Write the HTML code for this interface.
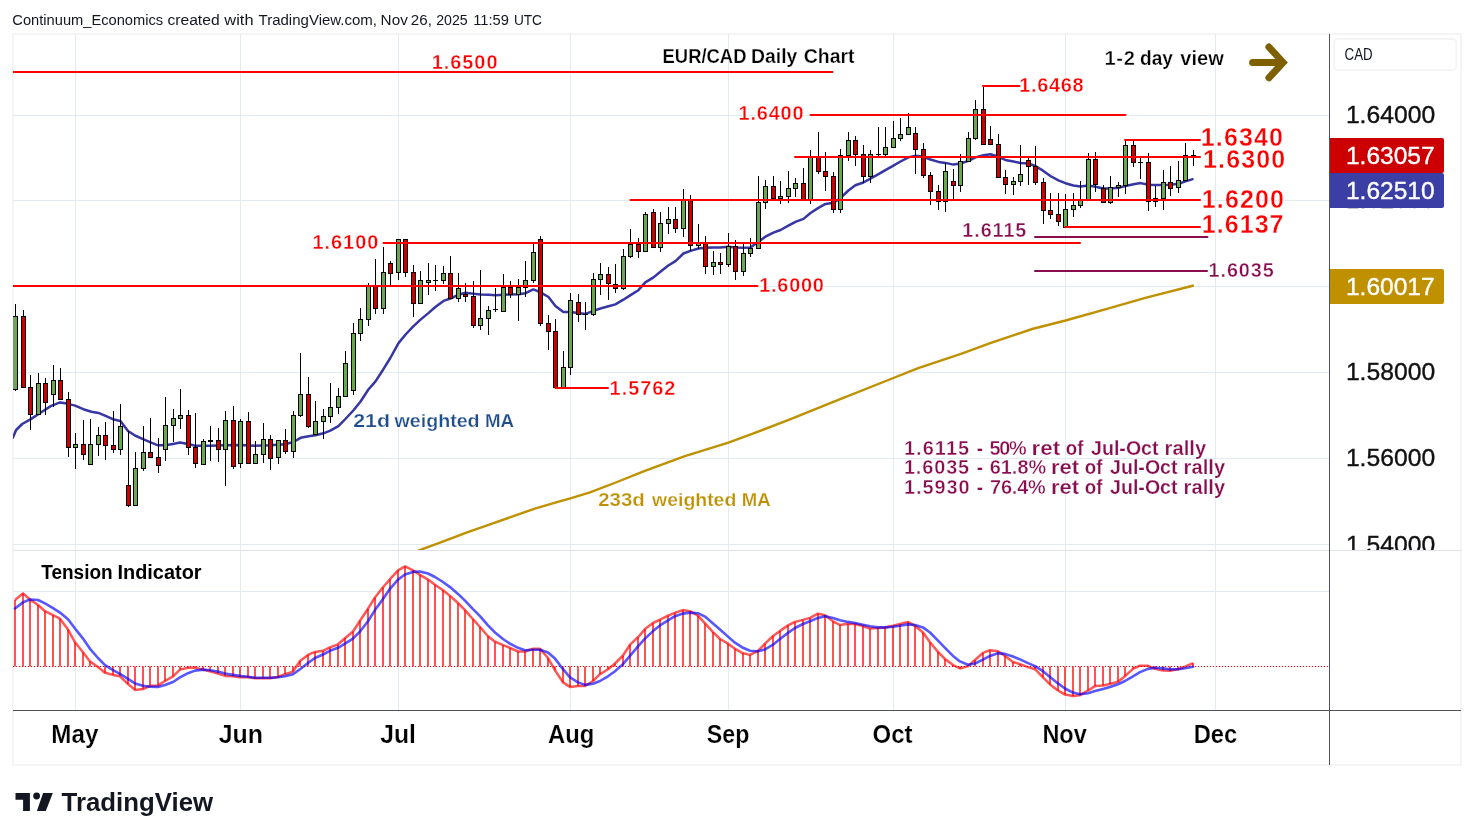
<!DOCTYPE html>
<html><head><meta charset="utf-8"><title>EUR/CAD Daily Chart</title>
<style>html,body{margin:0;padding:0;background:#fff;overflow:hidden;}svg{display:block;will-change:transform;}text{font-family:"Liberation Sans",sans-serif;}</style></head><body>
<svg width="1474" height="840" viewBox="0 0 1474 840">
<rect width="1474" height="840" fill="#ffffff"/>
<defs><clipPath id="main"><rect x="13" y="34" width="1316" height="516"/></clipPath><clipPath id="ind"><rect x="13" y="551" width="1316" height="159"/></clipPath><clipPath id="ax"><rect x="1330" y="34" width="131" height="516"/></clipPath></defs>
<rect x="13" y="34" width="1448" height="731" fill="#ffffff" stroke="#f4f4f4" stroke-width="2"/>
<g shape-rendering="crispEdges"><rect x="75" y="34" width="1" height="676" fill="#e1ecf2"/><rect x="240" y="34" width="1" height="676" fill="#e1ecf2"/><rect x="398" y="34" width="1" height="676" fill="#e1ecf2"/><rect x="570" y="34" width="1" height="676" fill="#e1ecf2"/><rect x="728" y="34" width="1" height="676" fill="#e1ecf2"/><rect x="893" y="34" width="1" height="676" fill="#e1ecf2"/><rect x="1065" y="34" width="1" height="676" fill="#e1ecf2"/><rect x="1215" y="34" width="1" height="676" fill="#e1ecf2"/><rect x="13" y="115" width="1316" height="1" fill="#e1ecf2"/><rect x="13" y="200" width="1316" height="1" fill="#e1ecf2"/><rect x="13" y="286" width="1316" height="1" fill="#e1ecf2"/><rect x="13" y="372" width="1316" height="1" fill="#e1ecf2"/><rect x="13" y="458" width="1316" height="1" fill="#e1ecf2"/><rect x="13" y="544" width="1316" height="1" fill="#e1ecf2"/><rect x="13" y="591" width="1316" height="1" fill="#e1ecf2"/><rect x="13" y="666" width="1316" height="1" fill="#e1ecf2"/></g>
<rect x="13" y="550" width="1448" height="1" fill="#e0e3eb" shape-rendering="crispEdges"/>
<g clip-path="url(#main)">
<path d="M417.5,551.1 L419.0,550.4 L440.7,542.3 L467.8,532.2 L495.0,522.7 L535.7,508.3 L558.7,501.6 L570.4,498.3 L590.0,492.4 L617.1,482.0 L644.2,471.2 L684.9,456.2 L728.4,442.7 L752.8,433.7 L790.0,419.3 L832.7,402.2 L893.4,378.0 L918.2,368.1 L961.0,353.8 L989.5,343.3 L1032.2,329.0 L1065.5,320.5 L1103.4,309.9 L1146.2,297.7 L1193.8,285.5" fill="none" stroke="#bf9000" stroke-width="2.4" stroke-linejoin="round"/>
<path d="M12.5,438.5 L13.6,436.1 L16.1,430.0 L22.2,424.0 L30.4,419.4 L40.5,412.7 L50.7,406.1 L59.9,402.4 L67.0,403.6 L75.1,405.6 L83.3,409.2 L91.4,411.7 L98.5,412.9 L106.7,416.3 L113.8,419.6 L120.4,420.9 L128.0,431.0 L135.0,435.5 L143.0,439.2 L150.0,442.2 L158.0,445.3 L165.0,445.3 L173.0,443.9 L180.0,442.6 L188.0,443.9 L195.0,445.7 L210.0,445.7 L225.0,445.3 L240.0,444.9 L255.0,445.7 L270.0,445.3 L285.0,444.3 L293.5,442.0 L300.6,437.8 L308.5,436.3 L315.4,435.3 L323.4,433.3 L330.3,430.6 L338.4,426.2 L345.4,419.0 L353.3,410.5 L360.4,401.7 L368.4,389.5 L375.5,381.4 L383.4,369.2 L390.3,358.0 L398.5,343.1 L406.0,334.0 L413.3,326.3 L420.5,319.6 L428.4,313.1 L435.3,307.0 L443.5,300.9 L450.4,298.5 L458.3,294.8 L465.5,292.8 L473.4,293.8 L480.5,294.4 L488.5,294.8 L495.6,295.2 L503.5,294.8 L510.4,294.4 L518.6,294.2 L525.5,293.2 L533.4,289.4 L540.6,292.4 L548.5,297.0 L555.4,306.0 L563.4,312.1 L570.5,312.1 L578.4,313.1 L585.5,313.9 L593.4,310.9 L600.4,308.5 L608.5,306.3 L615.4,304.4 L623.4,299.7 L630.5,295.1 L638.4,290.2 L645.3,282.4 L653.5,277.4 L660.4,271.7 L668.3,265.5 L675.5,261.1 L683.4,253.5 L690.5,250.9 L698.5,248.5 L705.4,247.8 L713.5,247.4 L720.4,247.4 L728.4,246.8 L735.5,247.4 L743.4,247.8 L750.4,247.4 L758.5,241.7 L765.4,236.7 L773.4,232.6 L780.5,230.0 L788.4,225.7 L795.4,221.9 L803.5,218.9 L810.5,213.0 L818.4,207.9 L825.5,203.9 L833.4,202.8 L840.4,198.2 L848.4,190.5 L855.4,185.3 L863.4,182.5 L870.4,178.7 L878.5,174.1 L885.4,170.1 L893.4,165.6 L900.5,161.5 L908.4,157.4 L915.6,155.8 L923.5,156.8 L930.4,159.5 L938.6,161.9 L945.5,162.9 L953.4,164.6 L960.5,163.5 L968.5,160.9 L975.4,157.4 L983.5,155.2 L990.5,154.2 L998.4,156.8 L1005.3,159.9 L1013.5,161.5 L1020.4,162.9 L1028.3,163.5 L1035.4,166.0 L1043.4,170.9 L1050.4,176.0 L1058.4,180.3 L1065.4,183.2 L1073.4,185.5 L1080.5,186.6 L1088.5,185.6 L1095.5,186.8 L1103.4,188.5 L1110.6,188.5 L1118.5,187.7 L1125.5,186.0 L1133.5,184.3 L1140.6,183.1 L1148.5,184.8 L1155.5,185.1 L1163.5,185.1 L1170.6,184.8 L1178.6,183.8 L1185.5,181.4 L1193.5,178.9" fill="none" stroke="#3636a4" stroke-width="2.5" stroke-linejoin="round"/>
<g shape-rendering="crispEdges"><rect x="15" y="304" width="1" height="87" fill="#000"/><rect x="13" y="316" width="5" height="74" fill="#000"/><rect x="14" y="317" width="3" height="72" fill="#6aa84f"/><rect x="23" y="310" width="1" height="78" fill="#000"/><rect x="21" y="316" width="5" height="72" fill="#000"/><rect x="22" y="317" width="3" height="70" fill="#cc0000"/><rect x="30" y="375" width="1" height="55" fill="#000"/><rect x="28" y="387" width="5" height="28" fill="#000"/><rect x="29" y="388" width="3" height="26" fill="#cc0000"/><rect x="38" y="373" width="1" height="42" fill="#000"/><rect x="36" y="383" width="5" height="32" fill="#000"/><rect x="37" y="384" width="3" height="30" fill="#6aa84f"/><rect x="45" y="378" width="1" height="37" fill="#000"/><rect x="43" y="383" width="5" height="20" fill="#000"/><rect x="44" y="384" width="3" height="18" fill="#cc0000"/><rect x="53" y="365" width="1" height="42" fill="#000"/><rect x="51" y="380" width="5" height="15" fill="#000"/><rect x="52" y="381" width="3" height="13" fill="#6aa84f"/><rect x="60" y="368" width="1" height="32" fill="#000"/><rect x="58" y="380" width="5" height="20" fill="#000"/><rect x="59" y="381" width="3" height="18" fill="#cc0000"/><rect x="68" y="392" width="1" height="65" fill="#000"/><rect x="66" y="399" width="5" height="49" fill="#000"/><rect x="67" y="400" width="3" height="47" fill="#cc0000"/><rect x="75" y="433" width="1" height="36" fill="#000"/><rect x="73" y="444" width="5" height="4" fill="#000"/><rect x="74" y="445" width="3" height="2" fill="#6aa84f"/><rect x="83" y="420" width="1" height="40" fill="#000"/><rect x="81" y="444" width="5" height="11" fill="#000"/><rect x="82" y="445" width="3" height="9" fill="#cc0000"/><rect x="90" y="419" width="1" height="46" fill="#000"/><rect x="88" y="444" width="5" height="21" fill="#000"/><rect x="89" y="445" width="3" height="19" fill="#6aa84f"/><rect x="98" y="427" width="1" height="29" fill="#000"/><rect x="96" y="435" width="5" height="10" fill="#000"/><rect x="97" y="436" width="3" height="8" fill="#6aa84f"/><rect x="105" y="422" width="1" height="38" fill="#000"/><rect x="103" y="435" width="5" height="11" fill="#000"/><rect x="104" y="436" width="3" height="9" fill="#cc0000"/><rect x="113" y="411" width="1" height="42" fill="#000"/><rect x="111" y="445" width="5" height="5" fill="#000"/><rect x="112" y="446" width="3" height="3" fill="#cc0000"/><rect x="120" y="404" width="1" height="51" fill="#000"/><rect x="118" y="426" width="5" height="24" fill="#000"/><rect x="119" y="427" width="3" height="22" fill="#6aa84f"/><rect x="128" y="431" width="1" height="76" fill="#000"/><rect x="126" y="485" width="5" height="21" fill="#000"/><rect x="127" y="486" width="3" height="19" fill="#cc0000"/><rect x="135" y="452" width="1" height="54" fill="#000"/><rect x="133" y="468" width="5" height="38" fill="#000"/><rect x="134" y="469" width="3" height="36" fill="#6aa84f"/><rect x="143" y="426" width="1" height="45" fill="#000"/><rect x="141" y="452" width="5" height="17" fill="#000"/><rect x="142" y="453" width="3" height="15" fill="#6aa84f"/><rect x="150" y="418" width="1" height="40" fill="#000"/><rect x="148" y="452" width="5" height="6" fill="#000"/><rect x="149" y="453" width="3" height="4" fill="#cc0000"/><rect x="158" y="438" width="1" height="35" fill="#000"/><rect x="156" y="457" width="5" height="9" fill="#000"/><rect x="157" y="458" width="3" height="7" fill="#cc0000"/><rect x="165" y="397" width="1" height="64" fill="#000"/><rect x="163" y="425" width="5" height="25" fill="#000"/><rect x="164" y="426" width="3" height="23" fill="#6aa84f"/><rect x="173" y="409" width="1" height="33" fill="#000"/><rect x="171" y="418" width="5" height="8" fill="#000"/><rect x="172" y="419" width="3" height="6" fill="#6aa84f"/><rect x="180" y="389" width="1" height="40" fill="#000"/><rect x="178" y="415" width="5" height="4" fill="#000"/><rect x="179" y="416" width="3" height="2" fill="#6aa84f"/><rect x="188" y="410" width="1" height="45" fill="#000"/><rect x="186" y="415" width="5" height="33" fill="#000"/><rect x="187" y="416" width="3" height="31" fill="#cc0000"/><rect x="195" y="413" width="1" height="55" fill="#000"/><rect x="193" y="447" width="5" height="17" fill="#000"/><rect x="194" y="448" width="3" height="15" fill="#cc0000"/><rect x="203" y="439" width="1" height="26" fill="#000"/><rect x="201" y="441" width="5" height="24" fill="#000"/><rect x="202" y="442" width="3" height="22" fill="#6aa84f"/><rect x="210" y="426" width="1" height="35" fill="#000"/><rect x="208" y="440" width="5" height="2" fill="#000"/><rect x="218" y="428" width="1" height="34" fill="#000"/><rect x="216" y="440" width="5" height="10" fill="#000"/><rect x="217" y="441" width="3" height="8" fill="#cc0000"/><rect x="225" y="411" width="1" height="75" fill="#000"/><rect x="223" y="420" width="5" height="30" fill="#000"/><rect x="224" y="421" width="3" height="28" fill="#6aa84f"/><rect x="233" y="406" width="1" height="63" fill="#000"/><rect x="231" y="420" width="5" height="47" fill="#000"/><rect x="232" y="421" width="3" height="45" fill="#cc0000"/><rect x="240" y="419" width="1" height="49" fill="#000"/><rect x="238" y="421" width="5" height="43" fill="#000"/><rect x="239" y="422" width="3" height="41" fill="#6aa84f"/><rect x="248" y="412" width="1" height="52" fill="#000"/><rect x="246" y="421" width="5" height="43" fill="#000"/><rect x="247" y="422" width="3" height="41" fill="#cc0000"/><rect x="255" y="441" width="1" height="23" fill="#000"/><rect x="253" y="454" width="5" height="10" fill="#000"/><rect x="254" y="455" width="3" height="8" fill="#6aa84f"/><rect x="263" y="423" width="1" height="40" fill="#000"/><rect x="261" y="439" width="5" height="16" fill="#000"/><rect x="262" y="440" width="3" height="14" fill="#6aa84f"/><rect x="270" y="435" width="1" height="35" fill="#000"/><rect x="268" y="439" width="5" height="20" fill="#000"/><rect x="269" y="440" width="3" height="18" fill="#cc0000"/><rect x="278" y="440" width="1" height="24" fill="#000"/><rect x="276" y="440" width="5" height="18" fill="#000"/><rect x="277" y="441" width="3" height="16" fill="#6aa84f"/><rect x="285" y="429" width="1" height="25" fill="#000"/><rect x="283" y="440" width="5" height="12" fill="#000"/><rect x="284" y="441" width="3" height="10" fill="#cc0000"/><rect x="293" y="411" width="1" height="47" fill="#000"/><rect x="291" y="415" width="5" height="37" fill="#000"/><rect x="292" y="416" width="3" height="35" fill="#6aa84f"/><rect x="300" y="353" width="1" height="64" fill="#000"/><rect x="298" y="394" width="5" height="22" fill="#000"/><rect x="299" y="395" width="3" height="20" fill="#6aa84f"/><rect x="308" y="377" width="1" height="51" fill="#000"/><rect x="306" y="394" width="5" height="33" fill="#000"/><rect x="307" y="395" width="3" height="31" fill="#cc0000"/><rect x="315" y="401" width="1" height="34" fill="#000"/><rect x="313" y="421" width="5" height="14" fill="#000"/><rect x="314" y="422" width="3" height="12" fill="#6aa84f"/><rect x="323" y="409" width="1" height="30" fill="#000"/><rect x="321" y="416" width="5" height="6" fill="#000"/><rect x="322" y="417" width="3" height="4" fill="#6aa84f"/><rect x="330" y="383" width="1" height="40" fill="#000"/><rect x="328" y="407" width="5" height="10" fill="#000"/><rect x="329" y="408" width="3" height="8" fill="#6aa84f"/><rect x="338" y="388" width="1" height="26" fill="#000"/><rect x="336" y="396" width="5" height="12" fill="#000"/><rect x="337" y="397" width="3" height="10" fill="#6aa84f"/><rect x="345" y="351" width="1" height="46" fill="#000"/><rect x="343" y="363" width="5" height="34" fill="#000"/><rect x="344" y="364" width="3" height="32" fill="#6aa84f"/><rect x="353" y="323" width="1" height="72" fill="#000"/><rect x="351" y="333" width="5" height="58" fill="#000"/><rect x="352" y="334" width="3" height="56" fill="#6aa84f"/><rect x="360" y="308" width="1" height="33" fill="#000"/><rect x="358" y="319" width="5" height="15" fill="#000"/><rect x="359" y="320" width="3" height="13" fill="#6aa84f"/><rect x="368" y="283" width="1" height="43" fill="#000"/><rect x="366" y="286" width="5" height="34" fill="#000"/><rect x="367" y="287" width="3" height="32" fill="#6aa84f"/><rect x="375" y="259" width="1" height="55" fill="#000"/><rect x="373" y="286" width="5" height="23" fill="#000"/><rect x="374" y="287" width="3" height="21" fill="#cc0000"/><rect x="383" y="247" width="1" height="67" fill="#000"/><rect x="381" y="272" width="5" height="37" fill="#000"/><rect x="382" y="273" width="3" height="35" fill="#6aa84f"/><rect x="390" y="261" width="1" height="24" fill="#000"/><rect x="388" y="263" width="5" height="11" fill="#000"/><rect x="389" y="264" width="3" height="9" fill="#cc0000"/><rect x="398" y="239" width="1" height="41" fill="#000"/><rect x="396" y="239" width="5" height="34" fill="#000"/><rect x="397" y="240" width="3" height="32" fill="#6aa84f"/><rect x="405" y="239" width="1" height="38" fill="#000"/><rect x="403" y="239" width="5" height="34" fill="#000"/><rect x="404" y="240" width="3" height="32" fill="#cc0000"/><rect x="413" y="265" width="1" height="52" fill="#000"/><rect x="411" y="272" width="5" height="32" fill="#000"/><rect x="412" y="273" width="3" height="30" fill="#cc0000"/><rect x="420" y="271" width="1" height="33" fill="#000"/><rect x="418" y="280" width="5" height="24" fill="#000"/><rect x="419" y="281" width="3" height="22" fill="#6aa84f"/><rect x="428" y="263" width="1" height="32" fill="#000"/><rect x="426" y="280" width="5" height="3" fill="#000"/><rect x="427" y="281" width="3" height="1" fill="#6aa84f"/><rect x="435" y="265" width="1" height="26" fill="#000"/><rect x="433" y="280" width="5" height="1" fill="#000"/><rect x="443" y="266" width="1" height="18" fill="#000"/><rect x="441" y="273" width="5" height="8" fill="#000"/><rect x="442" y="274" width="3" height="6" fill="#6aa84f"/><rect x="450" y="256" width="1" height="43" fill="#000"/><rect x="448" y="273" width="5" height="26" fill="#000"/><rect x="449" y="274" width="3" height="24" fill="#cc0000"/><rect x="458" y="273" width="1" height="29" fill="#000"/><rect x="456" y="288" width="5" height="11" fill="#000"/><rect x="457" y="289" width="3" height="9" fill="#6aa84f"/><rect x="465" y="283" width="1" height="19" fill="#000"/><rect x="463" y="294" width="5" height="3" fill="#000"/><rect x="464" y="295" width="3" height="1" fill="#cc0000"/><rect x="473" y="281" width="1" height="47" fill="#000"/><rect x="471" y="296" width="5" height="30" fill="#000"/><rect x="472" y="297" width="3" height="28" fill="#cc0000"/><rect x="480" y="270" width="1" height="60" fill="#000"/><rect x="478" y="318" width="5" height="8" fill="#000"/><rect x="479" y="319" width="3" height="6" fill="#6aa84f"/><rect x="488" y="306" width="1" height="29" fill="#000"/><rect x="486" y="310" width="5" height="9" fill="#000"/><rect x="487" y="311" width="3" height="7" fill="#6aa84f"/><rect x="495" y="288" width="1" height="24" fill="#000"/><rect x="493" y="309" width="5" height="1" fill="#000"/><rect x="503" y="274" width="1" height="38" fill="#000"/><rect x="501" y="287" width="5" height="25" fill="#000"/><rect x="502" y="288" width="3" height="23" fill="#6aa84f"/><rect x="510" y="281" width="1" height="17" fill="#000"/><rect x="508" y="287" width="5" height="8" fill="#000"/><rect x="509" y="288" width="3" height="6" fill="#cc0000"/><rect x="518" y="279" width="1" height="42" fill="#000"/><rect x="516" y="287" width="5" height="8" fill="#000"/><rect x="517" y="288" width="3" height="6" fill="#6aa84f"/><rect x="525" y="261" width="1" height="36" fill="#000"/><rect x="523" y="280" width="5" height="8" fill="#000"/><rect x="524" y="281" width="3" height="6" fill="#6aa84f"/><rect x="533" y="244" width="1" height="39" fill="#000"/><rect x="531" y="252" width="5" height="29" fill="#000"/><rect x="532" y="253" width="3" height="27" fill="#6aa84f"/><rect x="540" y="236" width="1" height="90" fill="#000"/><rect x="538" y="239" width="5" height="85" fill="#000"/><rect x="539" y="240" width="3" height="83" fill="#cc0000"/><rect x="548" y="315" width="1" height="35" fill="#000"/><rect x="546" y="323" width="5" height="9" fill="#000"/><rect x="547" y="324" width="3" height="7" fill="#cc0000"/><rect x="555" y="319" width="1" height="69" fill="#000"/><rect x="553" y="331" width="5" height="57" fill="#000"/><rect x="554" y="332" width="3" height="55" fill="#cc0000"/><rect x="563" y="351" width="1" height="37" fill="#000"/><rect x="561" y="367" width="5" height="21" fill="#000"/><rect x="562" y="368" width="3" height="19" fill="#6aa84f"/><rect x="570" y="293" width="1" height="82" fill="#000"/><rect x="568" y="300" width="5" height="68" fill="#000"/><rect x="569" y="301" width="3" height="66" fill="#6aa84f"/><rect x="578" y="294" width="1" height="28" fill="#000"/><rect x="576" y="302" width="5" height="13" fill="#000"/><rect x="577" y="303" width="3" height="11" fill="#cc0000"/><rect x="585" y="302" width="1" height="28" fill="#000"/><rect x="583" y="314" width="5" height="1" fill="#000"/><rect x="593" y="273" width="1" height="43" fill="#000"/><rect x="591" y="279" width="5" height="36" fill="#000"/><rect x="592" y="280" width="3" height="34" fill="#6aa84f"/><rect x="600" y="263" width="1" height="32" fill="#000"/><rect x="598" y="274" width="5" height="6" fill="#000"/><rect x="599" y="275" width="3" height="4" fill="#6aa84f"/><rect x="608" y="267" width="1" height="33" fill="#000"/><rect x="606" y="274" width="5" height="10" fill="#000"/><rect x="607" y="275" width="3" height="8" fill="#cc0000"/><rect x="615" y="264" width="1" height="29" fill="#000"/><rect x="613" y="284" width="5" height="5" fill="#000"/><rect x="614" y="285" width="3" height="3" fill="#cc0000"/><rect x="623" y="249" width="1" height="41" fill="#000"/><rect x="621" y="256" width="5" height="33" fill="#000"/><rect x="622" y="257" width="3" height="31" fill="#6aa84f"/><rect x="630" y="229" width="1" height="29" fill="#000"/><rect x="628" y="244" width="5" height="13" fill="#000"/><rect x="629" y="245" width="3" height="11" fill="#6aa84f"/><rect x="638" y="238" width="1" height="20" fill="#000"/><rect x="636" y="244" width="5" height="8" fill="#000"/><rect x="637" y="245" width="3" height="6" fill="#cc0000"/><rect x="645" y="212" width="1" height="40" fill="#000"/><rect x="643" y="214" width="5" height="38" fill="#000"/><rect x="644" y="215" width="3" height="36" fill="#6aa84f"/><rect x="653" y="209" width="1" height="39" fill="#000"/><rect x="651" y="212" width="5" height="36" fill="#000"/><rect x="652" y="213" width="3" height="34" fill="#cc0000"/><rect x="660" y="212" width="1" height="40" fill="#000"/><rect x="658" y="223" width="5" height="25" fill="#000"/><rect x="659" y="224" width="3" height="23" fill="#6aa84f"/><rect x="668" y="207" width="1" height="27" fill="#000"/><rect x="666" y="219" width="5" height="5" fill="#000"/><rect x="667" y="220" width="3" height="3" fill="#6aa84f"/><rect x="675" y="207" width="1" height="26" fill="#000"/><rect x="673" y="219" width="5" height="10" fill="#000"/><rect x="674" y="220" width="3" height="8" fill="#cc0000"/><rect x="683" y="189" width="1" height="48" fill="#000"/><rect x="681" y="200" width="5" height="29" fill="#000"/><rect x="682" y="201" width="3" height="27" fill="#6aa84f"/><rect x="690" y="195" width="1" height="56" fill="#000"/><rect x="688" y="200" width="5" height="46" fill="#000"/><rect x="689" y="201" width="3" height="44" fill="#cc0000"/><rect x="698" y="224" width="1" height="25" fill="#000"/><rect x="696" y="243" width="5" height="3" fill="#000"/><rect x="697" y="244" width="3" height="1" fill="#6aa84f"/><rect x="705" y="236" width="1" height="38" fill="#000"/><rect x="703" y="243" width="5" height="24" fill="#000"/><rect x="704" y="244" width="3" height="22" fill="#cc0000"/><rect x="713" y="251" width="1" height="24" fill="#000"/><rect x="711" y="262" width="5" height="5" fill="#000"/><rect x="712" y="263" width="3" height="3" fill="#6aa84f"/><rect x="720" y="253" width="1" height="21" fill="#000"/><rect x="718" y="262" width="5" height="3" fill="#000"/><rect x="719" y="263" width="3" height="1" fill="#cc0000"/><rect x="728" y="233" width="1" height="34" fill="#000"/><rect x="726" y="246" width="5" height="19" fill="#000"/><rect x="727" y="247" width="3" height="17" fill="#6aa84f"/><rect x="735" y="240" width="1" height="40" fill="#000"/><rect x="733" y="246" width="5" height="26" fill="#000"/><rect x="734" y="247" width="3" height="24" fill="#cc0000"/><rect x="743" y="244" width="1" height="32" fill="#000"/><rect x="741" y="253" width="5" height="19" fill="#000"/><rect x="742" y="254" width="3" height="17" fill="#6aa84f"/><rect x="750" y="238" width="1" height="19" fill="#000"/><rect x="748" y="248" width="5" height="6" fill="#000"/><rect x="749" y="249" width="3" height="4" fill="#6aa84f"/><rect x="758" y="176" width="1" height="73" fill="#000"/><rect x="756" y="202" width="5" height="47" fill="#000"/><rect x="757" y="203" width="3" height="45" fill="#6aa84f"/><rect x="765" y="180" width="1" height="29" fill="#000"/><rect x="763" y="186" width="5" height="17" fill="#000"/><rect x="764" y="187" width="3" height="15" fill="#6aa84f"/><rect x="773" y="176" width="1" height="23" fill="#000"/><rect x="771" y="186" width="5" height="13" fill="#000"/><rect x="772" y="187" width="3" height="11" fill="#cc0000"/><rect x="780" y="181" width="1" height="23" fill="#000"/><rect x="778" y="196" width="5" height="3" fill="#000"/><rect x="779" y="197" width="3" height="1" fill="#6aa84f"/><rect x="788" y="171" width="1" height="32" fill="#000"/><rect x="786" y="188" width="5" height="9" fill="#000"/><rect x="787" y="189" width="3" height="7" fill="#6aa84f"/><rect x="795" y="178" width="1" height="19" fill="#000"/><rect x="793" y="183" width="5" height="6" fill="#000"/><rect x="794" y="184" width="3" height="4" fill="#6aa84f"/><rect x="803" y="168" width="1" height="32" fill="#000"/><rect x="801" y="183" width="5" height="17" fill="#000"/><rect x="802" y="184" width="3" height="15" fill="#cc0000"/><rect x="810" y="150" width="1" height="54" fill="#000"/><rect x="808" y="157" width="5" height="43" fill="#000"/><rect x="809" y="158" width="3" height="41" fill="#6aa84f"/><rect x="818" y="132" width="1" height="42" fill="#000"/><rect x="816" y="157" width="5" height="15" fill="#000"/><rect x="817" y="158" width="3" height="13" fill="#cc0000"/><rect x="825" y="152" width="1" height="39" fill="#000"/><rect x="823" y="171" width="5" height="6" fill="#000"/><rect x="824" y="172" width="3" height="4" fill="#cc0000"/><rect x="833" y="172" width="1" height="41" fill="#000"/><rect x="831" y="176" width="5" height="34" fill="#000"/><rect x="832" y="177" width="3" height="32" fill="#cc0000"/><rect x="840" y="149" width="1" height="64" fill="#000"/><rect x="838" y="155" width="5" height="55" fill="#000"/><rect x="839" y="156" width="3" height="53" fill="#6aa84f"/><rect x="848" y="132" width="1" height="29" fill="#000"/><rect x="846" y="140" width="5" height="16" fill="#000"/><rect x="847" y="141" width="3" height="14" fill="#6aa84f"/><rect x="855" y="136" width="1" height="30" fill="#000"/><rect x="853" y="140" width="5" height="15" fill="#000"/><rect x="854" y="141" width="3" height="13" fill="#cc0000"/><rect x="863" y="145" width="1" height="38" fill="#000"/><rect x="861" y="154" width="5" height="23" fill="#000"/><rect x="862" y="155" width="3" height="21" fill="#cc0000"/><rect x="870" y="150" width="1" height="33" fill="#000"/><rect x="868" y="154" width="5" height="23" fill="#000"/><rect x="869" y="155" width="3" height="21" fill="#6aa84f"/><rect x="878" y="127" width="1" height="29" fill="#000"/><rect x="876" y="154" width="5" height="1" fill="#000"/><rect x="885" y="127" width="1" height="29" fill="#000"/><rect x="883" y="147" width="5" height="8" fill="#000"/><rect x="884" y="148" width="3" height="6" fill="#6aa84f"/><rect x="893" y="121" width="1" height="27" fill="#000"/><rect x="891" y="138" width="5" height="10" fill="#000"/><rect x="892" y="139" width="3" height="8" fill="#6aa84f"/><rect x="900" y="118" width="1" height="23" fill="#000"/><rect x="898" y="134" width="5" height="5" fill="#000"/><rect x="899" y="135" width="3" height="3" fill="#6aa84f"/><rect x="908" y="113" width="1" height="22" fill="#000"/><rect x="906" y="127" width="5" height="8" fill="#000"/><rect x="907" y="128" width="3" height="6" fill="#6aa84f"/><rect x="915" y="127" width="1" height="47" fill="#000"/><rect x="913" y="133" width="5" height="17" fill="#000"/><rect x="914" y="134" width="3" height="15" fill="#cc0000"/><rect x="923" y="143" width="1" height="35" fill="#000"/><rect x="921" y="149" width="5" height="27" fill="#000"/><rect x="922" y="150" width="3" height="25" fill="#cc0000"/><rect x="930" y="172" width="1" height="33" fill="#000"/><rect x="928" y="175" width="5" height="17" fill="#000"/><rect x="929" y="176" width="3" height="15" fill="#cc0000"/><rect x="938" y="185" width="1" height="25" fill="#000"/><rect x="936" y="191" width="5" height="11" fill="#000"/><rect x="937" y="192" width="3" height="9" fill="#cc0000"/><rect x="945" y="163" width="1" height="49" fill="#000"/><rect x="943" y="171" width="5" height="31" fill="#000"/><rect x="944" y="172" width="3" height="29" fill="#6aa84f"/><rect x="953" y="169" width="1" height="30" fill="#000"/><rect x="951" y="181" width="5" height="5" fill="#000"/><rect x="952" y="182" width="3" height="3" fill="#cc0000"/><rect x="960" y="154" width="1" height="38" fill="#000"/><rect x="958" y="161" width="5" height="25" fill="#000"/><rect x="959" y="162" width="3" height="23" fill="#6aa84f"/><rect x="968" y="132" width="1" height="30" fill="#000"/><rect x="966" y="138" width="5" height="24" fill="#000"/><rect x="967" y="139" width="3" height="22" fill="#6aa84f"/><rect x="975" y="100" width="1" height="40" fill="#000"/><rect x="973" y="109" width="5" height="30" fill="#000"/><rect x="974" y="110" width="3" height="28" fill="#6aa84f"/><rect x="983" y="86" width="1" height="59" fill="#000"/><rect x="981" y="109" width="5" height="36" fill="#000"/><rect x="982" y="110" width="3" height="34" fill="#cc0000"/><rect x="990" y="126" width="1" height="19" fill="#000"/><rect x="988" y="139" width="5" height="6" fill="#000"/><rect x="989" y="140" width="3" height="4" fill="#cc0000"/><rect x="998" y="134" width="1" height="44" fill="#000"/><rect x="996" y="144" width="5" height="34" fill="#000"/><rect x="997" y="145" width="3" height="32" fill="#cc0000"/><rect x="1005" y="170" width="1" height="24" fill="#000"/><rect x="1003" y="177" width="5" height="8" fill="#000"/><rect x="1004" y="178" width="3" height="6" fill="#cc0000"/><rect x="1013" y="177" width="1" height="18" fill="#000"/><rect x="1011" y="181" width="5" height="4" fill="#000"/><rect x="1012" y="182" width="3" height="2" fill="#6aa84f"/><rect x="1020" y="145" width="1" height="41" fill="#000"/><rect x="1018" y="174" width="5" height="8" fill="#000"/><rect x="1019" y="175" width="3" height="6" fill="#6aa84f"/><rect x="1028" y="157" width="1" height="28" fill="#000"/><rect x="1026" y="160" width="5" height="7" fill="#000"/><rect x="1027" y="161" width="3" height="5" fill="#cc0000"/><rect x="1035" y="146" width="1" height="39" fill="#000"/><rect x="1033" y="166" width="5" height="17" fill="#000"/><rect x="1034" y="167" width="3" height="15" fill="#cc0000"/><rect x="1043" y="178" width="1" height="46" fill="#000"/><rect x="1041" y="182" width="5" height="29" fill="#000"/><rect x="1042" y="183" width="3" height="27" fill="#cc0000"/><rect x="1050" y="193" width="1" height="26" fill="#000"/><rect x="1048" y="210" width="5" height="5" fill="#000"/><rect x="1049" y="211" width="3" height="3" fill="#cc0000"/><rect x="1058" y="193" width="1" height="33" fill="#000"/><rect x="1056" y="214" width="5" height="8" fill="#000"/><rect x="1057" y="215" width="3" height="6" fill="#cc0000"/><rect x="1065" y="194" width="1" height="34" fill="#000"/><rect x="1063" y="209" width="5" height="19" fill="#000"/><rect x="1064" y="210" width="3" height="17" fill="#6aa84f"/><rect x="1073" y="193" width="1" height="24" fill="#000"/><rect x="1071" y="205" width="5" height="5" fill="#000"/><rect x="1072" y="206" width="3" height="3" fill="#6aa84f"/><rect x="1080" y="181" width="1" height="27" fill="#000"/><rect x="1078" y="200" width="5" height="6" fill="#000"/><rect x="1079" y="201" width="3" height="4" fill="#6aa84f"/><rect x="1088" y="153" width="1" height="47" fill="#000"/><rect x="1086" y="159" width="5" height="41" fill="#000"/><rect x="1087" y="160" width="3" height="39" fill="#6aa84f"/><rect x="1095" y="152" width="1" height="40" fill="#000"/><rect x="1093" y="159" width="5" height="26" fill="#000"/><rect x="1094" y="160" width="3" height="24" fill="#cc0000"/><rect x="1103" y="185" width="1" height="18" fill="#000"/><rect x="1101" y="188" width="5" height="15" fill="#000"/><rect x="1102" y="189" width="3" height="13" fill="#cc0000"/><rect x="1110" y="176" width="1" height="28" fill="#000"/><rect x="1108" y="187" width="5" height="16" fill="#000"/><rect x="1109" y="188" width="3" height="14" fill="#6aa84f"/><rect x="1118" y="182" width="1" height="15" fill="#000"/><rect x="1116" y="185" width="5" height="3" fill="#000"/><rect x="1117" y="186" width="3" height="1" fill="#6aa84f"/><rect x="1125" y="140" width="1" height="54" fill="#000"/><rect x="1123" y="145" width="5" height="41" fill="#000"/><rect x="1124" y="146" width="3" height="39" fill="#6aa84f"/><rect x="1133" y="141" width="1" height="26" fill="#000"/><rect x="1131" y="145" width="5" height="18" fill="#000"/><rect x="1132" y="146" width="3" height="16" fill="#cc0000"/><rect x="1140" y="158" width="1" height="21" fill="#000"/><rect x="1138" y="162" width="5" height="1" fill="#000"/><rect x="1148" y="153" width="1" height="58" fill="#000"/><rect x="1146" y="162" width="5" height="40" fill="#000"/><rect x="1147" y="163" width="3" height="38" fill="#cc0000"/><rect x="1155" y="186" width="1" height="21" fill="#000"/><rect x="1153" y="198" width="5" height="4" fill="#000"/><rect x="1154" y="199" width="3" height="2" fill="#6aa84f"/><rect x="1163" y="170" width="1" height="40" fill="#000"/><rect x="1161" y="182" width="5" height="17" fill="#000"/><rect x="1162" y="183" width="3" height="15" fill="#6aa84f"/><rect x="1170" y="166" width="1" height="30" fill="#000"/><rect x="1168" y="182" width="5" height="7" fill="#000"/><rect x="1169" y="183" width="3" height="5" fill="#cc0000"/><rect x="1178" y="161" width="1" height="32" fill="#000"/><rect x="1176" y="180" width="5" height="8" fill="#000"/><rect x="1177" y="181" width="3" height="6" fill="#6aa84f"/><rect x="1185" y="143" width="1" height="38" fill="#000"/><rect x="1183" y="155" width="5" height="26" fill="#000"/><rect x="1184" y="156" width="3" height="24" fill="#6aa84f"/><rect x="1193" y="150" width="1" height="16" fill="#000"/><rect x="1191" y="155" width="5" height="1" fill="#000"/><rect x="13" y="317" width="1" height="72" fill="#8c8c8c"/></g>
</g>
<g clip-path="url(#main)"><line x1="13" y1="72" x2="832.5" y2="72" stroke="#ff0000" stroke-width="2" stroke-linecap="round"/><line x1="810.5" y1="115" x2="1125.5" y2="115" stroke="#ff0000" stroke-width="2" stroke-linecap="round"/><line x1="1125" y1="140" x2="1200" y2="140" stroke="#ff0000" stroke-width="2" stroke-linecap="round"/><line x1="795" y1="157" x2="1200" y2="157" stroke="#ff0000" stroke-width="2" stroke-linecap="round"/><line x1="630.5" y1="200" x2="1200" y2="200" stroke="#ff0000" stroke-width="2" stroke-linecap="round"/><line x1="1065.5" y1="227" x2="1200" y2="227" stroke="#ff0000" stroke-width="2" stroke-linecap="round"/><line x1="383.5" y1="243" x2="1080" y2="243" stroke="#ff0000" stroke-width="2" stroke-linecap="round"/><line x1="13" y1="286" x2="757.5" y2="286" stroke="#ff0000" stroke-width="2" stroke-linecap="round"/><line x1="555.5" y1="388" x2="608" y2="388" stroke="#ff0000" stroke-width="2" stroke-linecap="round"/><line x1="983" y1="86" x2="1019.5" y2="86" stroke="#ff0000" stroke-width="2" stroke-linecap="round"/><line x1="1035" y1="237" x2="1207.5" y2="237" stroke="#880e4f" stroke-width="2" stroke-linecap="round"/><line x1="1035" y1="271" x2="1207" y2="271" stroke="#880e4f" stroke-width="2" stroke-linecap="round"/></g>
<text x="12.33" y="24.9" font-size="15.2" font-weight="normal" fill="#131722" textLength="150.83" lengthAdjust="spacingAndGlyphs">Continuum_Economics</text><text x="167.44" y="24.9" font-size="15.2" font-weight="normal" fill="#131722" textLength="52.16" lengthAdjust="spacingAndGlyphs">created</text><text x="224.34" y="24.9" font-size="15.2" font-weight="normal" fill="#131722" textLength="29.18" lengthAdjust="spacingAndGlyphs">with</text><text x="258.55" y="24.9" font-size="15.2" font-weight="normal" fill="#131722" textLength="118.5" lengthAdjust="spacingAndGlyphs">TradingView.com,</text><text x="380.64" y="24.9" font-size="15.2" font-weight="normal" fill="#131722" textLength="27.2" lengthAdjust="spacingAndGlyphs">Nov</text><text x="410.82" y="24.9" font-size="15.2" font-weight="normal" fill="#131722" textLength="21.07" lengthAdjust="spacingAndGlyphs">26,</text><text x="436.16" y="24.9" font-size="15.2" font-weight="normal" fill="#131722" textLength="31.53" lengthAdjust="spacingAndGlyphs">2025</text><text x="473.17" y="24.9" font-size="15.2" font-weight="normal" fill="#131722" textLength="35.73" lengthAdjust="spacingAndGlyphs">11:59</text><text x="513.89" y="24.9" font-size="15.2" font-weight="normal" fill="#131722" textLength="28.07" lengthAdjust="spacingAndGlyphs">UTC</text><text x="431.69" y="68.6" font-size="19.9" font-weight="bold" fill="#ff0000" stroke="#fff" stroke-width="0.4" textLength="65.8" lengthAdjust="spacing">1.6500</text><text x="662.56" y="62.5" font-size="20.1" font-weight="bold" fill="#000" stroke="#fff" stroke-width="0.25" textLength="83.9" lengthAdjust="spacingAndGlyphs">EUR/CAD</text><text x="751.05" y="62.5" font-size="20.1" font-weight="bold" fill="#000" stroke="#fff" stroke-width="0.25" textLength="46.28" lengthAdjust="spacingAndGlyphs">Daily</text><text x="803.75" y="62.5" font-size="20.1" font-weight="bold" fill="#000" stroke="#fff" stroke-width="0.25" textLength="50.77" lengthAdjust="spacingAndGlyphs">Chart</text><text x="1104.56" y="64.5" font-size="20.1" font-weight="bold" fill="#000" stroke="#fff" stroke-width="0.4" textLength="30.29" lengthAdjust="spacing">1-2</text><text x="1140.07" y="64.5" font-size="20.1" font-weight="bold" fill="#000" stroke="#fff" stroke-width="0.25" textLength="32.91" lengthAdjust="spacingAndGlyphs">day</text><text x="1180.27" y="64.5" font-size="20.1" font-weight="bold" fill="#000" stroke="#fff" stroke-width="0.25" textLength="43.51" lengthAdjust="spacingAndGlyphs">view</text><text x="1019.19" y="91.6" font-size="19.9" font-weight="bold" fill="#ff0000" stroke="#fff" stroke-width="0.4" textLength="64.34" lengthAdjust="spacing">1.6468</text><text x="738.59" y="120" font-size="19.9" font-weight="bold" fill="#ff0000" stroke="#fff" stroke-width="0.4" textLength="64.94" lengthAdjust="spacing">1.6400</text><text x="1200.7" y="146.1" font-size="25" font-weight="bold" fill="#ff0000" stroke="#fff" stroke-width="0.4" textLength="82.3" lengthAdjust="spacing">1.6340</text><text x="1203.0" y="168" font-size="25" font-weight="bold" fill="#ff0000" stroke="#fff" stroke-width="0.4" textLength="82.18" lengthAdjust="spacing">1.6300</text><text x="1201.8" y="207.9" font-size="25" font-weight="bold" fill="#ff0000" stroke="#fff" stroke-width="0.4" textLength="82.06" lengthAdjust="spacing">1.6200</text><text x="1201.8" y="232.9" font-size="25" font-weight="bold" fill="#ff0000" stroke="#fff" stroke-width="0.4" textLength="81.73" lengthAdjust="spacing">1.6137</text><text x="962.29" y="237.1" font-size="19.8" font-weight="bold" fill="#880e4f" stroke="#fff" stroke-width="0.4" textLength="64.1" lengthAdjust="spacing">1.6115</text><text x="1208.49" y="276.8" font-size="19.8" font-weight="bold" fill="#880e4f" stroke="#fff" stroke-width="0.4" textLength="65.33" lengthAdjust="spacing">1.6035</text><text x="312.49" y="248.5" font-size="19.9" font-weight="bold" fill="#ff0000" stroke="#fff" stroke-width="0.4" textLength="65.8" lengthAdjust="spacing">1.6100</text><text x="759.19" y="291.5" font-size="19.9" font-weight="bold" fill="#ff0000" stroke="#fff" stroke-width="0.4" textLength="64.69" lengthAdjust="spacing">1.6000</text><text x="609.59" y="394.9" font-size="19.9" font-weight="bold" fill="#ff0000" stroke="#fff" stroke-width="0.4" textLength="65.79" lengthAdjust="spacing">1.5762</text><text x="353.22" y="426.9" font-size="18.8" font-weight="bold" fill="#1f4e8c" stroke="#fff" stroke-width="0.25" textLength="36.83" lengthAdjust="spacingAndGlyphs">21d</text><text x="394.47" y="426.9" font-size="18.8" font-weight="bold" fill="#1f4e8c" stroke="#fff" stroke-width="0.25" textLength="85.14" lengthAdjust="spacingAndGlyphs">weighted</text><text x="484.93" y="426.9" font-size="18.8" font-weight="bold" fill="#1f4e8c" stroke="#fff" stroke-width="0.25" textLength="29.07" lengthAdjust="spacingAndGlyphs">MA</text><text x="598.17" y="506.2" font-size="18.8" font-weight="bold" fill="#bf9000" stroke="#fff" stroke-width="0.25" textLength="46.62" lengthAdjust="spacingAndGlyphs">233d</text><text x="652.07" y="506.2" font-size="18.8" font-weight="bold" fill="#bf9000" stroke="#fff" stroke-width="0.25" textLength="84.23" lengthAdjust="spacingAndGlyphs">weighted</text><text x="741.79" y="506.2" font-size="18.8" font-weight="bold" fill="#bf9000" stroke="#fff" stroke-width="0.25" textLength="28.83" lengthAdjust="spacingAndGlyphs">MA</text><text x="903.89" y="454.5" font-size="19.9" font-weight="bold" fill="#880e4f" stroke="#fff" stroke-width="0.4" textLength="65.27" lengthAdjust="spacing">1.6115</text><text x="976.87" y="454.5" font-size="19.9" font-weight="bold" fill="#880e4f" stroke="#fff" stroke-width="0.25" textLength="6.19" lengthAdjust="spacingAndGlyphs">-</text><text x="989.61" y="454.5" font-size="19.9" font-weight="bold" fill="#880e4f" stroke="#fff" stroke-width="0.4" textLength="37.02" lengthAdjust="spacing">50%</text><text x="1031.5" y="454.5" font-size="19.9" font-weight="bold" fill="#880e4f" stroke="#fff" stroke-width="0.25" textLength="28.6" lengthAdjust="spacingAndGlyphs">ret</text><text x="1065.83" y="454.5" font-size="19.9" font-weight="bold" fill="#880e4f" stroke="#fff" stroke-width="0.25" textLength="17.67" lengthAdjust="spacingAndGlyphs">of</text><text x="1091.05" y="454.5" font-size="19.9" font-weight="bold" fill="#880e4f" stroke="#fff" stroke-width="0.25" textLength="67.51" lengthAdjust="spacingAndGlyphs">Jul-Oct</text><text x="1164.61" y="454.5" font-size="19.9" font-weight="bold" fill="#880e4f" stroke="#fff" stroke-width="0.25" textLength="41.5" lengthAdjust="spacingAndGlyphs">rally</text><text x="903.89" y="474.4" font-size="19.9" font-weight="bold" fill="#880e4f" stroke="#fff" stroke-width="0.4" textLength="65.25" lengthAdjust="spacing">1.6035</text><text x="976.87" y="474.4" font-size="19.9" font-weight="bold" fill="#880e4f" stroke="#fff" stroke-width="0.25" textLength="6.19" lengthAdjust="spacingAndGlyphs">-</text><text x="989.76" y="474.4" font-size="19.9" font-weight="bold" fill="#880e4f" stroke="#fff" stroke-width="0.4" textLength="56.37" lengthAdjust="spacing">61.8%</text><text x="1050.99" y="474.4" font-size="19.9" font-weight="bold" fill="#880e4f" stroke="#fff" stroke-width="0.25" textLength="28.12" lengthAdjust="spacingAndGlyphs">ret</text><text x="1084.83" y="474.4" font-size="19.9" font-weight="bold" fill="#880e4f" stroke="#fff" stroke-width="0.25" textLength="17.67" lengthAdjust="spacingAndGlyphs">of</text><text x="1110.05" y="474.4" font-size="19.9" font-weight="bold" fill="#880e4f" stroke="#fff" stroke-width="0.25" textLength="67.51" lengthAdjust="spacingAndGlyphs">Jul-Oct</text><text x="1183.61" y="474.4" font-size="19.9" font-weight="bold" fill="#880e4f" stroke="#fff" stroke-width="0.25" textLength="41.5" lengthAdjust="spacingAndGlyphs">rally</text><text x="903.89" y="494.1" font-size="19.9" font-weight="bold" fill="#880e4f" stroke="#fff" stroke-width="0.4" textLength="65.62" lengthAdjust="spacing">1.5930</text><text x="976.87" y="494.1" font-size="19.9" font-weight="bold" fill="#880e4f" stroke="#fff" stroke-width="0.25" textLength="6.19" lengthAdjust="spacingAndGlyphs">-</text><text x="990.1" y="494.1" font-size="19.9" font-weight="bold" fill="#880e4f" stroke="#fff" stroke-width="0.4" textLength="55.68" lengthAdjust="spacing">76.4%</text><text x="1050.99" y="494.1" font-size="19.9" font-weight="bold" fill="#880e4f" stroke="#fff" stroke-width="0.25" textLength="28.12" lengthAdjust="spacingAndGlyphs">ret</text><text x="1084.83" y="494.1" font-size="19.9" font-weight="bold" fill="#880e4f" stroke="#fff" stroke-width="0.25" textLength="17.67" lengthAdjust="spacingAndGlyphs">of</text><text x="1110.05" y="494.1" font-size="19.9" font-weight="bold" fill="#880e4f" stroke="#fff" stroke-width="0.25" textLength="67.51" lengthAdjust="spacingAndGlyphs">Jul-Oct</text><text x="1183.61" y="494.1" font-size="19.9" font-weight="bold" fill="#880e4f" stroke="#fff" stroke-width="0.25" textLength="41.5" lengthAdjust="spacingAndGlyphs">rally</text>
<path d="M1252.6,62.4 H1282.5 M1268.9,47 L1283.1,62.4 L1268.9,77.8" fill="none" stroke="#7f6000" stroke-width="7" stroke-linecap="round" stroke-linejoin="miter"/>
<g clip-path="url(#ind)">
<g><rect x="14" y="600.0" width="2" height="66.5" fill="#ff0000" fill-opacity="0.68"/><rect x="22" y="593.4" width="2" height="73.1" fill="#ff0000" fill-opacity="0.68"/><rect x="29" y="599.5" width="2" height="67.0" fill="#ff0000" fill-opacity="0.68"/><rect x="37" y="605.0" width="2" height="61.5" fill="#ff0000" fill-opacity="0.68"/><rect x="44" y="611.2" width="2" height="55.3" fill="#ff0000" fill-opacity="0.68"/><rect x="52" y="615.2" width="2" height="51.3" fill="#ff0000" fill-opacity="0.68"/><rect x="59" y="618.7" width="2" height="47.8" fill="#ff0000" fill-opacity="0.68"/><rect x="67" y="629.5" width="2" height="37.0" fill="#ff0000" fill-opacity="0.68"/><rect x="74" y="642.3" width="2" height="24.2" fill="#ff0000" fill-opacity="0.68"/><rect x="82" y="652.3" width="2" height="14.2" fill="#ff0000" fill-opacity="0.68"/><rect x="89" y="661.4" width="2" height="5.1" fill="#ff0000" fill-opacity="0.68"/><rect x="97" y="666.5" width="2" height="0.6" fill="#ff0000" fill-opacity="0.68"/><rect x="104" y="666.5" width="2" height="6.3" fill="#ff0000" fill-opacity="0.68"/><rect x="112" y="666.5" width="2" height="8.4" fill="#ff0000" fill-opacity="0.68"/><rect x="119" y="666.5" width="2" height="9.8" fill="#ff0000" fill-opacity="0.68"/><rect x="127" y="666.5" width="2" height="17.5" fill="#ff0000" fill-opacity="0.68"/><rect x="134" y="666.5" width="2" height="23.4" fill="#ff0000" fill-opacity="0.68"/><rect x="142" y="666.5" width="2" height="22.6" fill="#ff0000" fill-opacity="0.68"/><rect x="149" y="666.5" width="2" height="19.3" fill="#ff0000" fill-opacity="0.68"/><rect x="157" y="666.5" width="2" height="18.9" fill="#ff0000" fill-opacity="0.68"/><rect x="164" y="666.5" width="2" height="14.5" fill="#ff0000" fill-opacity="0.68"/><rect x="172" y="666.5" width="2" height="9.8" fill="#ff0000" fill-opacity="0.68"/><rect x="179" y="666.5" width="2" height="3.1" fill="#ff0000" fill-opacity="0.68"/><rect x="187" y="666.5" width="2" height="1.2" fill="#ff0000" fill-opacity="0.68"/><rect x="194" y="666.5" width="2" height="1.2" fill="#ff0000" fill-opacity="0.68"/><rect x="202" y="666.5" width="2" height="3.1" fill="#ff0000" fill-opacity="0.68"/><rect x="209" y="666.5" width="2" height="4.7" fill="#ff0000" fill-opacity="0.68"/><rect x="217" y="666.5" width="2" height="7.1" fill="#ff0000" fill-opacity="0.68"/><rect x="224" y="666.5" width="2" height="9.4" fill="#ff0000" fill-opacity="0.68"/><rect x="232" y="666.5" width="2" height="9.8" fill="#ff0000" fill-opacity="0.68"/><rect x="239" y="666.5" width="2" height="10.8" fill="#ff0000" fill-opacity="0.68"/><rect x="247" y="666.5" width="2" height="10.8" fill="#ff0000" fill-opacity="0.68"/><rect x="254" y="666.5" width="2" height="11.8" fill="#ff0000" fill-opacity="0.68"/><rect x="262" y="666.5" width="2" height="11.8" fill="#ff0000" fill-opacity="0.68"/><rect x="269" y="666.5" width="2" height="11.8" fill="#ff0000" fill-opacity="0.68"/><rect x="277" y="666.5" width="2" height="10.4" fill="#ff0000" fill-opacity="0.68"/><rect x="284" y="666.5" width="2" height="7.7" fill="#ff0000" fill-opacity="0.68"/><rect x="292" y="666.5" width="2" height="5.1" fill="#ff0000" fill-opacity="0.68"/><rect x="299" y="661.0" width="2" height="5.5" fill="#ff0000" fill-opacity="0.68"/><rect x="307" y="654.9" width="2" height="11.6" fill="#ff0000" fill-opacity="0.68"/><rect x="314" y="651.9" width="2" height="14.6" fill="#ff0000" fill-opacity="0.68"/><rect x="322" y="650.8" width="2" height="15.7" fill="#ff0000" fill-opacity="0.68"/><rect x="329" y="647.4" width="2" height="19.1" fill="#ff0000" fill-opacity="0.68"/><rect x="337" y="644.3" width="2" height="22.2" fill="#ff0000" fill-opacity="0.68"/><rect x="344" y="638.2" width="2" height="28.3" fill="#ff0000" fill-opacity="0.68"/><rect x="352" y="631.5" width="2" height="35.0" fill="#ff0000" fill-opacity="0.68"/><rect x="359" y="620.7" width="2" height="45.8" fill="#ff0000" fill-opacity="0.68"/><rect x="367" y="608.7" width="2" height="57.8" fill="#ff0000" fill-opacity="0.68"/><rect x="374" y="597.5" width="2" height="69.0" fill="#ff0000" fill-opacity="0.68"/><rect x="382" y="587.3" width="2" height="79.2" fill="#ff0000" fill-opacity="0.68"/><rect x="389" y="579.2" width="2" height="87.3" fill="#ff0000" fill-opacity="0.68"/><rect x="397" y="570.4" width="2" height="96.1" fill="#ff0000" fill-opacity="0.68"/><rect x="404" y="566.4" width="2" height="100.1" fill="#ff0000" fill-opacity="0.68"/><rect x="412" y="570.4" width="2" height="96.1" fill="#ff0000" fill-opacity="0.68"/><rect x="419" y="574.9" width="2" height="91.6" fill="#ff0000" fill-opacity="0.68"/><rect x="427" y="579.6" width="2" height="86.9" fill="#ff0000" fill-opacity="0.68"/><rect x="434" y="584.7" width="2" height="81.8" fill="#ff0000" fill-opacity="0.68"/><rect x="442" y="590.2" width="2" height="76.3" fill="#ff0000" fill-opacity="0.68"/><rect x="449" y="595.9" width="2" height="70.6" fill="#ff0000" fill-opacity="0.68"/><rect x="457" y="603.0" width="2" height="63.5" fill="#ff0000" fill-opacity="0.68"/><rect x="464" y="610.1" width="2" height="56.4" fill="#ff0000" fill-opacity="0.68"/><rect x="472" y="619.3" width="2" height="47.2" fill="#ff0000" fill-opacity="0.68"/><rect x="479" y="627.0" width="2" height="39.5" fill="#ff0000" fill-opacity="0.68"/><rect x="487" y="636.2" width="2" height="30.3" fill="#ff0000" fill-opacity="0.68"/><rect x="494" y="641.7" width="2" height="24.8" fill="#ff0000" fill-opacity="0.68"/><rect x="502" y="645.1" width="2" height="21.4" fill="#ff0000" fill-opacity="0.68"/><rect x="509" y="647.8" width="2" height="18.7" fill="#ff0000" fill-opacity="0.68"/><rect x="517" y="651.5" width="2" height="15.0" fill="#ff0000" fill-opacity="0.68"/><rect x="524" y="651.5" width="2" height="15.0" fill="#ff0000" fill-opacity="0.68"/><rect x="532" y="648.8" width="2" height="17.7" fill="#ff0000" fill-opacity="0.68"/><rect x="539" y="648.8" width="2" height="17.7" fill="#ff0000" fill-opacity="0.68"/><rect x="547" y="658.0" width="2" height="8.5" fill="#ff0000" fill-opacity="0.68"/><rect x="554" y="666.5" width="2" height="3.7" fill="#ff0000" fill-opacity="0.68"/><rect x="562" y="666.5" width="2" height="15.9" fill="#ff0000" fill-opacity="0.68"/><rect x="569" y="666.5" width="2" height="20.4" fill="#ff0000" fill-opacity="0.68"/><rect x="577" y="666.5" width="2" height="19.6" fill="#ff0000" fill-opacity="0.68"/><rect x="584" y="666.5" width="2" height="19.5" fill="#ff0000" fill-opacity="0.68"/><rect x="592" y="666.5" width="2" height="14.5" fill="#ff0000" fill-opacity="0.68"/><rect x="599" y="666.5" width="2" height="7.7" fill="#ff0000" fill-opacity="0.68"/><rect x="607" y="666.5" width="2" height="2.7" fill="#ff0000" fill-opacity="0.68"/><rect x="614" y="663.5" width="2" height="3.0" fill="#ff0000" fill-opacity="0.68"/><rect x="622" y="655.5" width="2" height="11.0" fill="#ff0000" fill-opacity="0.68"/><rect x="629" y="644.7" width="2" height="21.8" fill="#ff0000" fill-opacity="0.68"/><rect x="637" y="637.2" width="2" height="29.3" fill="#ff0000" fill-opacity="0.68"/><rect x="644" y="629.1" width="2" height="37.4" fill="#ff0000" fill-opacity="0.68"/><rect x="652" y="623.0" width="2" height="43.5" fill="#ff0000" fill-opacity="0.68"/><rect x="659" y="619.7" width="2" height="46.8" fill="#ff0000" fill-opacity="0.68"/><rect x="667" y="615.6" width="2" height="50.9" fill="#ff0000" fill-opacity="0.68"/><rect x="674" y="612.8" width="2" height="53.7" fill="#ff0000" fill-opacity="0.68"/><rect x="682" y="610.1" width="2" height="56.4" fill="#ff0000" fill-opacity="0.68"/><rect x="689" y="611.2" width="2" height="55.3" fill="#ff0000" fill-opacity="0.68"/><rect x="697" y="615.6" width="2" height="50.9" fill="#ff0000" fill-opacity="0.68"/><rect x="704" y="623.4" width="2" height="43.1" fill="#ff0000" fill-opacity="0.68"/><rect x="712" y="632.1" width="2" height="34.4" fill="#ff0000" fill-opacity="0.68"/><rect x="719" y="639.0" width="2" height="27.5" fill="#ff0000" fill-opacity="0.68"/><rect x="727" y="643.7" width="2" height="22.8" fill="#ff0000" fill-opacity="0.68"/><rect x="734" y="648.8" width="2" height="17.7" fill="#ff0000" fill-opacity="0.68"/><rect x="742" y="653.3" width="2" height="13.2" fill="#ff0000" fill-opacity="0.68"/><rect x="749" y="654.9" width="2" height="11.6" fill="#ff0000" fill-opacity="0.68"/><rect x="757" y="650.8" width="2" height="15.7" fill="#ff0000" fill-opacity="0.68"/><rect x="764" y="643.7" width="2" height="22.8" fill="#ff0000" fill-opacity="0.68"/><rect x="772" y="636.0" width="2" height="30.5" fill="#ff0000" fill-opacity="0.68"/><rect x="779" y="630.9" width="2" height="35.6" fill="#ff0000" fill-opacity="0.68"/><rect x="787" y="625.4" width="2" height="41.1" fill="#ff0000" fill-opacity="0.68"/><rect x="794" y="621.9" width="2" height="44.6" fill="#ff0000" fill-opacity="0.68"/><rect x="802" y="619.9" width="2" height="46.6" fill="#ff0000" fill-opacity="0.68"/><rect x="809" y="617.9" width="2" height="48.6" fill="#ff0000" fill-opacity="0.68"/><rect x="817" y="613.6" width="2" height="52.9" fill="#ff0000" fill-opacity="0.68"/><rect x="824" y="615.2" width="2" height="51.3" fill="#ff0000" fill-opacity="0.68"/><rect x="832" y="621.3" width="2" height="45.2" fill="#ff0000" fill-opacity="0.68"/><rect x="839" y="625.0" width="2" height="41.5" fill="#ff0000" fill-opacity="0.68"/><rect x="847" y="623.8" width="2" height="42.7" fill="#ff0000" fill-opacity="0.68"/><rect x="854" y="624.0" width="2" height="42.5" fill="#ff0000" fill-opacity="0.68"/><rect x="862" y="626.0" width="2" height="40.5" fill="#ff0000" fill-opacity="0.68"/><rect x="869" y="628.5" width="2" height="38.0" fill="#ff0000" fill-opacity="0.68"/><rect x="877" y="628.0" width="2" height="38.5" fill="#ff0000" fill-opacity="0.68"/><rect x="884" y="627.4" width="2" height="39.1" fill="#ff0000" fill-opacity="0.68"/><rect x="892" y="625.8" width="2" height="40.7" fill="#ff0000" fill-opacity="0.68"/><rect x="899" y="624.0" width="2" height="42.5" fill="#ff0000" fill-opacity="0.68"/><rect x="907" y="621.9" width="2" height="44.6" fill="#ff0000" fill-opacity="0.68"/><rect x="914" y="625.8" width="2" height="40.7" fill="#ff0000" fill-opacity="0.68"/><rect x="922" y="632.5" width="2" height="34.0" fill="#ff0000" fill-opacity="0.68"/><rect x="929" y="642.3" width="2" height="24.2" fill="#ff0000" fill-opacity="0.68"/><rect x="937" y="651.9" width="2" height="14.6" fill="#ff0000" fill-opacity="0.68"/><rect x="944" y="659.0" width="2" height="7.5" fill="#ff0000" fill-opacity="0.68"/><rect x="952" y="665.1" width="2" height="1.4" fill="#ff0000" fill-opacity="0.68"/><rect x="959" y="666.5" width="2" height="2.0" fill="#ff0000" fill-opacity="0.68"/><rect x="974" y="660.0" width="2" height="6.5" fill="#ff0000" fill-opacity="0.68"/><rect x="982" y="652.9" width="2" height="13.6" fill="#ff0000" fill-opacity="0.68"/><rect x="989" y="650.2" width="2" height="16.3" fill="#ff0000" fill-opacity="0.68"/><rect x="997" y="651.3" width="2" height="15.2" fill="#ff0000" fill-opacity="0.68"/><rect x="1004" y="655.9" width="2" height="10.6" fill="#ff0000" fill-opacity="0.68"/><rect x="1012" y="662.0" width="2" height="4.5" fill="#ff0000" fill-opacity="0.68"/><rect x="1019" y="664.1" width="2" height="2.4" fill="#ff0000" fill-opacity="0.68"/><rect x="1027" y="666.5" width="2" height="0.6" fill="#ff0000" fill-opacity="0.68"/><rect x="1034" y="666.5" width="2" height="2.7" fill="#ff0000" fill-opacity="0.68"/><rect x="1042" y="666.5" width="2" height="10.8" fill="#ff0000" fill-opacity="0.68"/><rect x="1049" y="666.5" width="2" height="17.9" fill="#ff0000" fill-opacity="0.68"/><rect x="1057" y="666.5" width="2" height="24.0" fill="#ff0000" fill-opacity="0.68"/><rect x="1064" y="666.5" width="2" height="28.1" fill="#ff0000" fill-opacity="0.68"/><rect x="1072" y="666.5" width="2" height="29.5" fill="#ff0000" fill-opacity="0.68"/><rect x="1079" y="666.5" width="2" height="28.7" fill="#ff0000" fill-opacity="0.68"/><rect x="1087" y="666.5" width="2" height="24.0" fill="#ff0000" fill-opacity="0.68"/><rect x="1094" y="666.5" width="2" height="19.6" fill="#ff0000" fill-opacity="0.68"/><rect x="1102" y="666.5" width="2" height="18.9" fill="#ff0000" fill-opacity="0.68"/><rect x="1109" y="666.5" width="2" height="17.5" fill="#ff0000" fill-opacity="0.68"/><rect x="1117" y="666.5" width="2" height="15.3" fill="#ff0000" fill-opacity="0.68"/><rect x="1124" y="666.5" width="2" height="9.7" fill="#ff0000" fill-opacity="0.68"/><rect x="1132" y="666.5" width="2" height="2.3" fill="#ff0000" fill-opacity="0.68"/><rect x="1139" y="665.7" width="2" height="0.8" fill="#ff0000" fill-opacity="0.68"/><rect x="1147" y="665.8" width="2" height="0.7" fill="#ff0000" fill-opacity="0.68"/><rect x="1154" y="666.5" width="2" height="2.3" fill="#ff0000" fill-opacity="0.68"/><rect x="1162" y="666.5" width="2" height="4.1" fill="#ff0000" fill-opacity="0.68"/><rect x="1169" y="666.5" width="2" height="4.3" fill="#ff0000" fill-opacity="0.68"/><rect x="1177" y="666.5" width="2" height="2.7" fill="#ff0000" fill-opacity="0.68"/><rect x="1192" y="663.1" width="2" height="3.4" fill="#ff0000" fill-opacity="0.68"/></g>
<g shape-rendering="crispEdges"><rect x="13" y="666" width="1" height="1" fill="#ff0000"/><rect x="16" y="666" width="1" height="1" fill="#ff0000"/><rect x="19" y="666" width="1" height="1" fill="#ff0000"/><rect x="22" y="666" width="1" height="1" fill="#ff0000"/><rect x="25" y="666" width="1" height="1" fill="#ff0000"/><rect x="28" y="666" width="1" height="1" fill="#ff0000"/><rect x="31" y="666" width="1" height="1" fill="#ff0000"/><rect x="34" y="666" width="1" height="1" fill="#ff0000"/><rect x="37" y="666" width="1" height="1" fill="#ff0000"/><rect x="40" y="666" width="1" height="1" fill="#ff0000"/><rect x="43" y="666" width="1" height="1" fill="#ff0000"/><rect x="46" y="666" width="1" height="1" fill="#ff0000"/><rect x="49" y="666" width="1" height="1" fill="#ff0000"/><rect x="52" y="666" width="1" height="1" fill="#ff0000"/><rect x="55" y="666" width="1" height="1" fill="#ff0000"/><rect x="58" y="666" width="1" height="1" fill="#ff0000"/><rect x="61" y="666" width="1" height="1" fill="#ff0000"/><rect x="64" y="666" width="1" height="1" fill="#ff0000"/><rect x="67" y="666" width="1" height="1" fill="#ff0000"/><rect x="70" y="666" width="1" height="1" fill="#ff0000"/><rect x="73" y="666" width="1" height="1" fill="#ff0000"/><rect x="76" y="666" width="1" height="1" fill="#ff0000"/><rect x="79" y="666" width="1" height="1" fill="#ff0000"/><rect x="82" y="666" width="1" height="1" fill="#ff0000"/><rect x="85" y="666" width="1" height="1" fill="#ff0000"/><rect x="88" y="666" width="1" height="1" fill="#ff0000"/><rect x="91" y="666" width="1" height="1" fill="#ff0000"/><rect x="94" y="666" width="1" height="1" fill="#ff0000"/><rect x="97" y="666" width="1" height="1" fill="#ff0000"/><rect x="100" y="666" width="1" height="1" fill="#ff0000"/><rect x="103" y="666" width="1" height="1" fill="#ff0000"/><rect x="106" y="666" width="1" height="1" fill="#ff0000"/><rect x="109" y="666" width="1" height="1" fill="#ff0000"/><rect x="112" y="666" width="1" height="1" fill="#ff0000"/><rect x="115" y="666" width="1" height="1" fill="#ff0000"/><rect x="118" y="666" width="1" height="1" fill="#ff0000"/><rect x="121" y="666" width="1" height="1" fill="#ff0000"/><rect x="124" y="666" width="1" height="1" fill="#ff0000"/><rect x="127" y="666" width="1" height="1" fill="#ff0000"/><rect x="130" y="666" width="1" height="1" fill="#ff0000"/><rect x="133" y="666" width="1" height="1" fill="#ff0000"/><rect x="136" y="666" width="1" height="1" fill="#ff0000"/><rect x="139" y="666" width="1" height="1" fill="#ff0000"/><rect x="142" y="666" width="1" height="1" fill="#ff0000"/><rect x="145" y="666" width="1" height="1" fill="#ff0000"/><rect x="148" y="666" width="1" height="1" fill="#ff0000"/><rect x="151" y="666" width="1" height="1" fill="#ff0000"/><rect x="154" y="666" width="1" height="1" fill="#ff0000"/><rect x="157" y="666" width="1" height="1" fill="#ff0000"/><rect x="160" y="666" width="1" height="1" fill="#ff0000"/><rect x="163" y="666" width="1" height="1" fill="#ff0000"/><rect x="166" y="666" width="1" height="1" fill="#ff0000"/><rect x="169" y="666" width="1" height="1" fill="#ff0000"/><rect x="172" y="666" width="1" height="1" fill="#ff0000"/><rect x="175" y="666" width="1" height="1" fill="#ff0000"/><rect x="178" y="666" width="1" height="1" fill="#ff0000"/><rect x="181" y="666" width="1" height="1" fill="#ff0000"/><rect x="184" y="666" width="1" height="1" fill="#ff0000"/><rect x="187" y="666" width="1" height="1" fill="#ff0000"/><rect x="190" y="666" width="1" height="1" fill="#ff0000"/><rect x="193" y="666" width="1" height="1" fill="#ff0000"/><rect x="196" y="666" width="1" height="1" fill="#ff0000"/><rect x="199" y="666" width="1" height="1" fill="#ff0000"/><rect x="202" y="666" width="1" height="1" fill="#ff0000"/><rect x="205" y="666" width="1" height="1" fill="#ff0000"/><rect x="208" y="666" width="1" height="1" fill="#ff0000"/><rect x="211" y="666" width="1" height="1" fill="#ff0000"/><rect x="214" y="666" width="1" height="1" fill="#ff0000"/><rect x="217" y="666" width="1" height="1" fill="#ff0000"/><rect x="220" y="666" width="1" height="1" fill="#ff0000"/><rect x="223" y="666" width="1" height="1" fill="#ff0000"/><rect x="226" y="666" width="1" height="1" fill="#ff0000"/><rect x="229" y="666" width="1" height="1" fill="#ff0000"/><rect x="232" y="666" width="1" height="1" fill="#ff0000"/><rect x="235" y="666" width="1" height="1" fill="#ff0000"/><rect x="238" y="666" width="1" height="1" fill="#ff0000"/><rect x="241" y="666" width="1" height="1" fill="#ff0000"/><rect x="244" y="666" width="1" height="1" fill="#ff0000"/><rect x="247" y="666" width="1" height="1" fill="#ff0000"/><rect x="250" y="666" width="1" height="1" fill="#ff0000"/><rect x="253" y="666" width="1" height="1" fill="#ff0000"/><rect x="256" y="666" width="1" height="1" fill="#ff0000"/><rect x="259" y="666" width="1" height="1" fill="#ff0000"/><rect x="262" y="666" width="1" height="1" fill="#ff0000"/><rect x="265" y="666" width="1" height="1" fill="#ff0000"/><rect x="268" y="666" width="1" height="1" fill="#ff0000"/><rect x="271" y="666" width="1" height="1" fill="#ff0000"/><rect x="274" y="666" width="1" height="1" fill="#ff0000"/><rect x="277" y="666" width="1" height="1" fill="#ff0000"/><rect x="280" y="666" width="1" height="1" fill="#ff0000"/><rect x="283" y="666" width="1" height="1" fill="#ff0000"/><rect x="286" y="666" width="1" height="1" fill="#ff0000"/><rect x="289" y="666" width="1" height="1" fill="#ff0000"/><rect x="292" y="666" width="1" height="1" fill="#ff0000"/><rect x="295" y="666" width="1" height="1" fill="#ff0000"/><rect x="298" y="666" width="1" height="1" fill="#ff0000"/><rect x="301" y="666" width="1" height="1" fill="#ff0000"/><rect x="304" y="666" width="1" height="1" fill="#ff0000"/><rect x="307" y="666" width="1" height="1" fill="#ff0000"/><rect x="310" y="666" width="1" height="1" fill="#ff0000"/><rect x="313" y="666" width="1" height="1" fill="#ff0000"/><rect x="316" y="666" width="1" height="1" fill="#ff0000"/><rect x="319" y="666" width="1" height="1" fill="#ff0000"/><rect x="322" y="666" width="1" height="1" fill="#ff0000"/><rect x="325" y="666" width="1" height="1" fill="#ff0000"/><rect x="328" y="666" width="1" height="1" fill="#ff0000"/><rect x="331" y="666" width="1" height="1" fill="#ff0000"/><rect x="334" y="666" width="1" height="1" fill="#ff0000"/><rect x="337" y="666" width="1" height="1" fill="#ff0000"/><rect x="340" y="666" width="1" height="1" fill="#ff0000"/><rect x="343" y="666" width="1" height="1" fill="#ff0000"/><rect x="346" y="666" width="1" height="1" fill="#ff0000"/><rect x="349" y="666" width="1" height="1" fill="#ff0000"/><rect x="352" y="666" width="1" height="1" fill="#ff0000"/><rect x="355" y="666" width="1" height="1" fill="#ff0000"/><rect x="358" y="666" width="1" height="1" fill="#ff0000"/><rect x="361" y="666" width="1" height="1" fill="#ff0000"/><rect x="364" y="666" width="1" height="1" fill="#ff0000"/><rect x="367" y="666" width="1" height="1" fill="#ff0000"/><rect x="370" y="666" width="1" height="1" fill="#ff0000"/><rect x="373" y="666" width="1" height="1" fill="#ff0000"/><rect x="376" y="666" width="1" height="1" fill="#ff0000"/><rect x="379" y="666" width="1" height="1" fill="#ff0000"/><rect x="382" y="666" width="1" height="1" fill="#ff0000"/><rect x="385" y="666" width="1" height="1" fill="#ff0000"/><rect x="388" y="666" width="1" height="1" fill="#ff0000"/><rect x="391" y="666" width="1" height="1" fill="#ff0000"/><rect x="394" y="666" width="1" height="1" fill="#ff0000"/><rect x="397" y="666" width="1" height="1" fill="#ff0000"/><rect x="400" y="666" width="1" height="1" fill="#ff0000"/><rect x="403" y="666" width="1" height="1" fill="#ff0000"/><rect x="406" y="666" width="1" height="1" fill="#ff0000"/><rect x="409" y="666" width="1" height="1" fill="#ff0000"/><rect x="412" y="666" width="1" height="1" fill="#ff0000"/><rect x="415" y="666" width="1" height="1" fill="#ff0000"/><rect x="418" y="666" width="1" height="1" fill="#ff0000"/><rect x="421" y="666" width="1" height="1" fill="#ff0000"/><rect x="424" y="666" width="1" height="1" fill="#ff0000"/><rect x="427" y="666" width="1" height="1" fill="#ff0000"/><rect x="430" y="666" width="1" height="1" fill="#ff0000"/><rect x="433" y="666" width="1" height="1" fill="#ff0000"/><rect x="436" y="666" width="1" height="1" fill="#ff0000"/><rect x="439" y="666" width="1" height="1" fill="#ff0000"/><rect x="442" y="666" width="1" height="1" fill="#ff0000"/><rect x="445" y="666" width="1" height="1" fill="#ff0000"/><rect x="448" y="666" width="1" height="1" fill="#ff0000"/><rect x="451" y="666" width="1" height="1" fill="#ff0000"/><rect x="454" y="666" width="1" height="1" fill="#ff0000"/><rect x="457" y="666" width="1" height="1" fill="#ff0000"/><rect x="460" y="666" width="1" height="1" fill="#ff0000"/><rect x="463" y="666" width="1" height="1" fill="#ff0000"/><rect x="466" y="666" width="1" height="1" fill="#ff0000"/><rect x="469" y="666" width="1" height="1" fill="#ff0000"/><rect x="472" y="666" width="1" height="1" fill="#ff0000"/><rect x="475" y="666" width="1" height="1" fill="#ff0000"/><rect x="478" y="666" width="1" height="1" fill="#ff0000"/><rect x="481" y="666" width="1" height="1" fill="#ff0000"/><rect x="484" y="666" width="1" height="1" fill="#ff0000"/><rect x="487" y="666" width="1" height="1" fill="#ff0000"/><rect x="490" y="666" width="1" height="1" fill="#ff0000"/><rect x="493" y="666" width="1" height="1" fill="#ff0000"/><rect x="496" y="666" width="1" height="1" fill="#ff0000"/><rect x="499" y="666" width="1" height="1" fill="#ff0000"/><rect x="502" y="666" width="1" height="1" fill="#ff0000"/><rect x="505" y="666" width="1" height="1" fill="#ff0000"/><rect x="508" y="666" width="1" height="1" fill="#ff0000"/><rect x="511" y="666" width="1" height="1" fill="#ff0000"/><rect x="514" y="666" width="1" height="1" fill="#ff0000"/><rect x="517" y="666" width="1" height="1" fill="#ff0000"/><rect x="520" y="666" width="1" height="1" fill="#ff0000"/><rect x="523" y="666" width="1" height="1" fill="#ff0000"/><rect x="526" y="666" width="1" height="1" fill="#ff0000"/><rect x="529" y="666" width="1" height="1" fill="#ff0000"/><rect x="532" y="666" width="1" height="1" fill="#ff0000"/><rect x="535" y="666" width="1" height="1" fill="#ff0000"/><rect x="538" y="666" width="1" height="1" fill="#ff0000"/><rect x="541" y="666" width="1" height="1" fill="#ff0000"/><rect x="544" y="666" width="1" height="1" fill="#ff0000"/><rect x="547" y="666" width="1" height="1" fill="#ff0000"/><rect x="550" y="666" width="1" height="1" fill="#ff0000"/><rect x="553" y="666" width="1" height="1" fill="#ff0000"/><rect x="556" y="666" width="1" height="1" fill="#ff0000"/><rect x="559" y="666" width="1" height="1" fill="#ff0000"/><rect x="562" y="666" width="1" height="1" fill="#ff0000"/><rect x="565" y="666" width="1" height="1" fill="#ff0000"/><rect x="568" y="666" width="1" height="1" fill="#ff0000"/><rect x="571" y="666" width="1" height="1" fill="#ff0000"/><rect x="574" y="666" width="1" height="1" fill="#ff0000"/><rect x="577" y="666" width="1" height="1" fill="#ff0000"/><rect x="580" y="666" width="1" height="1" fill="#ff0000"/><rect x="583" y="666" width="1" height="1" fill="#ff0000"/><rect x="586" y="666" width="1" height="1" fill="#ff0000"/><rect x="589" y="666" width="1" height="1" fill="#ff0000"/><rect x="592" y="666" width="1" height="1" fill="#ff0000"/><rect x="595" y="666" width="1" height="1" fill="#ff0000"/><rect x="598" y="666" width="1" height="1" fill="#ff0000"/><rect x="601" y="666" width="1" height="1" fill="#ff0000"/><rect x="604" y="666" width="1" height="1" fill="#ff0000"/><rect x="607" y="666" width="1" height="1" fill="#ff0000"/><rect x="610" y="666" width="1" height="1" fill="#ff0000"/><rect x="613" y="666" width="1" height="1" fill="#ff0000"/><rect x="616" y="666" width="1" height="1" fill="#ff0000"/><rect x="619" y="666" width="1" height="1" fill="#ff0000"/><rect x="622" y="666" width="1" height="1" fill="#ff0000"/><rect x="625" y="666" width="1" height="1" fill="#ff0000"/><rect x="628" y="666" width="1" height="1" fill="#ff0000"/><rect x="631" y="666" width="1" height="1" fill="#ff0000"/><rect x="634" y="666" width="1" height="1" fill="#ff0000"/><rect x="637" y="666" width="1" height="1" fill="#ff0000"/><rect x="640" y="666" width="1" height="1" fill="#ff0000"/><rect x="643" y="666" width="1" height="1" fill="#ff0000"/><rect x="646" y="666" width="1" height="1" fill="#ff0000"/><rect x="649" y="666" width="1" height="1" fill="#ff0000"/><rect x="652" y="666" width="1" height="1" fill="#ff0000"/><rect x="655" y="666" width="1" height="1" fill="#ff0000"/><rect x="658" y="666" width="1" height="1" fill="#ff0000"/><rect x="661" y="666" width="1" height="1" fill="#ff0000"/><rect x="664" y="666" width="1" height="1" fill="#ff0000"/><rect x="667" y="666" width="1" height="1" fill="#ff0000"/><rect x="670" y="666" width="1" height="1" fill="#ff0000"/><rect x="673" y="666" width="1" height="1" fill="#ff0000"/><rect x="676" y="666" width="1" height="1" fill="#ff0000"/><rect x="679" y="666" width="1" height="1" fill="#ff0000"/><rect x="682" y="666" width="1" height="1" fill="#ff0000"/><rect x="685" y="666" width="1" height="1" fill="#ff0000"/><rect x="688" y="666" width="1" height="1" fill="#ff0000"/><rect x="691" y="666" width="1" height="1" fill="#ff0000"/><rect x="694" y="666" width="1" height="1" fill="#ff0000"/><rect x="697" y="666" width="1" height="1" fill="#ff0000"/><rect x="700" y="666" width="1" height="1" fill="#ff0000"/><rect x="703" y="666" width="1" height="1" fill="#ff0000"/><rect x="706" y="666" width="1" height="1" fill="#ff0000"/><rect x="709" y="666" width="1" height="1" fill="#ff0000"/><rect x="712" y="666" width="1" height="1" fill="#ff0000"/><rect x="715" y="666" width="1" height="1" fill="#ff0000"/><rect x="718" y="666" width="1" height="1" fill="#ff0000"/><rect x="721" y="666" width="1" height="1" fill="#ff0000"/><rect x="724" y="666" width="1" height="1" fill="#ff0000"/><rect x="727" y="666" width="1" height="1" fill="#ff0000"/><rect x="730" y="666" width="1" height="1" fill="#ff0000"/><rect x="733" y="666" width="1" height="1" fill="#ff0000"/><rect x="736" y="666" width="1" height="1" fill="#ff0000"/><rect x="739" y="666" width="1" height="1" fill="#ff0000"/><rect x="742" y="666" width="1" height="1" fill="#ff0000"/><rect x="745" y="666" width="1" height="1" fill="#ff0000"/><rect x="748" y="666" width="1" height="1" fill="#ff0000"/><rect x="751" y="666" width="1" height="1" fill="#ff0000"/><rect x="754" y="666" width="1" height="1" fill="#ff0000"/><rect x="757" y="666" width="1" height="1" fill="#ff0000"/><rect x="760" y="666" width="1" height="1" fill="#ff0000"/><rect x="763" y="666" width="1" height="1" fill="#ff0000"/><rect x="766" y="666" width="1" height="1" fill="#ff0000"/><rect x="769" y="666" width="1" height="1" fill="#ff0000"/><rect x="772" y="666" width="1" height="1" fill="#ff0000"/><rect x="775" y="666" width="1" height="1" fill="#ff0000"/><rect x="778" y="666" width="1" height="1" fill="#ff0000"/><rect x="781" y="666" width="1" height="1" fill="#ff0000"/><rect x="784" y="666" width="1" height="1" fill="#ff0000"/><rect x="787" y="666" width="1" height="1" fill="#ff0000"/><rect x="790" y="666" width="1" height="1" fill="#ff0000"/><rect x="793" y="666" width="1" height="1" fill="#ff0000"/><rect x="796" y="666" width="1" height="1" fill="#ff0000"/><rect x="799" y="666" width="1" height="1" fill="#ff0000"/><rect x="802" y="666" width="1" height="1" fill="#ff0000"/><rect x="805" y="666" width="1" height="1" fill="#ff0000"/><rect x="808" y="666" width="1" height="1" fill="#ff0000"/><rect x="811" y="666" width="1" height="1" fill="#ff0000"/><rect x="814" y="666" width="1" height="1" fill="#ff0000"/><rect x="817" y="666" width="1" height="1" fill="#ff0000"/><rect x="820" y="666" width="1" height="1" fill="#ff0000"/><rect x="823" y="666" width="1" height="1" fill="#ff0000"/><rect x="826" y="666" width="1" height="1" fill="#ff0000"/><rect x="829" y="666" width="1" height="1" fill="#ff0000"/><rect x="832" y="666" width="1" height="1" fill="#ff0000"/><rect x="835" y="666" width="1" height="1" fill="#ff0000"/><rect x="838" y="666" width="1" height="1" fill="#ff0000"/><rect x="841" y="666" width="1" height="1" fill="#ff0000"/><rect x="844" y="666" width="1" height="1" fill="#ff0000"/><rect x="847" y="666" width="1" height="1" fill="#ff0000"/><rect x="850" y="666" width="1" height="1" fill="#ff0000"/><rect x="853" y="666" width="1" height="1" fill="#ff0000"/><rect x="856" y="666" width="1" height="1" fill="#ff0000"/><rect x="859" y="666" width="1" height="1" fill="#ff0000"/><rect x="862" y="666" width="1" height="1" fill="#ff0000"/><rect x="865" y="666" width="1" height="1" fill="#ff0000"/><rect x="868" y="666" width="1" height="1" fill="#ff0000"/><rect x="871" y="666" width="1" height="1" fill="#ff0000"/><rect x="874" y="666" width="1" height="1" fill="#ff0000"/><rect x="877" y="666" width="1" height="1" fill="#ff0000"/><rect x="880" y="666" width="1" height="1" fill="#ff0000"/><rect x="883" y="666" width="1" height="1" fill="#ff0000"/><rect x="886" y="666" width="1" height="1" fill="#ff0000"/><rect x="889" y="666" width="1" height="1" fill="#ff0000"/><rect x="892" y="666" width="1" height="1" fill="#ff0000"/><rect x="895" y="666" width="1" height="1" fill="#ff0000"/><rect x="898" y="666" width="1" height="1" fill="#ff0000"/><rect x="901" y="666" width="1" height="1" fill="#ff0000"/><rect x="904" y="666" width="1" height="1" fill="#ff0000"/><rect x="907" y="666" width="1" height="1" fill="#ff0000"/><rect x="910" y="666" width="1" height="1" fill="#ff0000"/><rect x="913" y="666" width="1" height="1" fill="#ff0000"/><rect x="916" y="666" width="1" height="1" fill="#ff0000"/><rect x="919" y="666" width="1" height="1" fill="#ff0000"/><rect x="922" y="666" width="1" height="1" fill="#ff0000"/><rect x="925" y="666" width="1" height="1" fill="#ff0000"/><rect x="928" y="666" width="1" height="1" fill="#ff0000"/><rect x="931" y="666" width="1" height="1" fill="#ff0000"/><rect x="934" y="666" width="1" height="1" fill="#ff0000"/><rect x="937" y="666" width="1" height="1" fill="#ff0000"/><rect x="940" y="666" width="1" height="1" fill="#ff0000"/><rect x="943" y="666" width="1" height="1" fill="#ff0000"/><rect x="946" y="666" width="1" height="1" fill="#ff0000"/><rect x="949" y="666" width="1" height="1" fill="#ff0000"/><rect x="952" y="666" width="1" height="1" fill="#ff0000"/><rect x="955" y="666" width="1" height="1" fill="#ff0000"/><rect x="958" y="666" width="1" height="1" fill="#ff0000"/><rect x="961" y="666" width="1" height="1" fill="#ff0000"/><rect x="964" y="666" width="1" height="1" fill="#ff0000"/><rect x="967" y="666" width="1" height="1" fill="#ff0000"/><rect x="970" y="666" width="1" height="1" fill="#ff0000"/><rect x="973" y="666" width="1" height="1" fill="#ff0000"/><rect x="976" y="666" width="1" height="1" fill="#ff0000"/><rect x="979" y="666" width="1" height="1" fill="#ff0000"/><rect x="982" y="666" width="1" height="1" fill="#ff0000"/><rect x="985" y="666" width="1" height="1" fill="#ff0000"/><rect x="988" y="666" width="1" height="1" fill="#ff0000"/><rect x="991" y="666" width="1" height="1" fill="#ff0000"/><rect x="994" y="666" width="1" height="1" fill="#ff0000"/><rect x="997" y="666" width="1" height="1" fill="#ff0000"/><rect x="1000" y="666" width="1" height="1" fill="#ff0000"/><rect x="1003" y="666" width="1" height="1" fill="#ff0000"/><rect x="1006" y="666" width="1" height="1" fill="#ff0000"/><rect x="1009" y="666" width="1" height="1" fill="#ff0000"/><rect x="1012" y="666" width="1" height="1" fill="#ff0000"/><rect x="1015" y="666" width="1" height="1" fill="#ff0000"/><rect x="1018" y="666" width="1" height="1" fill="#ff0000"/><rect x="1021" y="666" width="1" height="1" fill="#ff0000"/><rect x="1024" y="666" width="1" height="1" fill="#ff0000"/><rect x="1027" y="666" width="1" height="1" fill="#ff0000"/><rect x="1030" y="666" width="1" height="1" fill="#ff0000"/><rect x="1033" y="666" width="1" height="1" fill="#ff0000"/><rect x="1036" y="666" width="1" height="1" fill="#ff0000"/><rect x="1039" y="666" width="1" height="1" fill="#ff0000"/><rect x="1042" y="666" width="1" height="1" fill="#ff0000"/><rect x="1045" y="666" width="1" height="1" fill="#ff0000"/><rect x="1048" y="666" width="1" height="1" fill="#ff0000"/><rect x="1051" y="666" width="1" height="1" fill="#ff0000"/><rect x="1054" y="666" width="1" height="1" fill="#ff0000"/><rect x="1057" y="666" width="1" height="1" fill="#ff0000"/><rect x="1060" y="666" width="1" height="1" fill="#ff0000"/><rect x="1063" y="666" width="1" height="1" fill="#ff0000"/><rect x="1066" y="666" width="1" height="1" fill="#ff0000"/><rect x="1069" y="666" width="1" height="1" fill="#ff0000"/><rect x="1072" y="666" width="1" height="1" fill="#ff0000"/><rect x="1075" y="666" width="1" height="1" fill="#ff0000"/><rect x="1078" y="666" width="1" height="1" fill="#ff0000"/><rect x="1081" y="666" width="1" height="1" fill="#ff0000"/><rect x="1084" y="666" width="1" height="1" fill="#ff0000"/><rect x="1087" y="666" width="1" height="1" fill="#ff0000"/><rect x="1090" y="666" width="1" height="1" fill="#ff0000"/><rect x="1093" y="666" width="1" height="1" fill="#ff0000"/><rect x="1096" y="666" width="1" height="1" fill="#ff0000"/><rect x="1099" y="666" width="1" height="1" fill="#ff0000"/><rect x="1102" y="666" width="1" height="1" fill="#ff0000"/><rect x="1105" y="666" width="1" height="1" fill="#ff0000"/><rect x="1108" y="666" width="1" height="1" fill="#ff0000"/><rect x="1111" y="666" width="1" height="1" fill="#ff0000"/><rect x="1114" y="666" width="1" height="1" fill="#ff0000"/><rect x="1117" y="666" width="1" height="1" fill="#ff0000"/><rect x="1120" y="666" width="1" height="1" fill="#ff0000"/><rect x="1123" y="666" width="1" height="1" fill="#ff0000"/><rect x="1126" y="666" width="1" height="1" fill="#ff0000"/><rect x="1129" y="666" width="1" height="1" fill="#ff0000"/><rect x="1132" y="666" width="1" height="1" fill="#ff0000"/><rect x="1135" y="666" width="1" height="1" fill="#ff0000"/><rect x="1138" y="666" width="1" height="1" fill="#ff0000"/><rect x="1141" y="666" width="1" height="1" fill="#ff0000"/><rect x="1144" y="666" width="1" height="1" fill="#ff0000"/><rect x="1147" y="666" width="1" height="1" fill="#ff0000"/><rect x="1150" y="666" width="1" height="1" fill="#ff0000"/><rect x="1153" y="666" width="1" height="1" fill="#ff0000"/><rect x="1156" y="666" width="1" height="1" fill="#ff0000"/><rect x="1159" y="666" width="1" height="1" fill="#ff0000"/><rect x="1162" y="666" width="1" height="1" fill="#ff0000"/><rect x="1165" y="666" width="1" height="1" fill="#ff0000"/><rect x="1168" y="666" width="1" height="1" fill="#ff0000"/><rect x="1171" y="666" width="1" height="1" fill="#ff0000"/><rect x="1174" y="666" width="1" height="1" fill="#ff0000"/><rect x="1177" y="666" width="1" height="1" fill="#ff0000"/><rect x="1180" y="666" width="1" height="1" fill="#ff0000"/><rect x="1183" y="666" width="1" height="1" fill="#ff0000"/><rect x="1186" y="666" width="1" height="1" fill="#ff0000"/><rect x="1189" y="666" width="1" height="1" fill="#ff0000"/><rect x="1192" y="666" width="1" height="1" fill="#ff0000"/><rect x="1195" y="666" width="1" height="1" fill="#ff0000"/><rect x="1198" y="666" width="1" height="1" fill="#ff0000"/><rect x="1201" y="666" width="1" height="1" fill="#ff0000"/><rect x="1204" y="666" width="1" height="1" fill="#ff0000"/><rect x="1207" y="666" width="1" height="1" fill="#ff0000"/><rect x="1210" y="666" width="1" height="1" fill="#ff0000"/><rect x="1213" y="666" width="1" height="1" fill="#ff0000"/><rect x="1216" y="666" width="1" height="1" fill="#ff0000"/><rect x="1219" y="666" width="1" height="1" fill="#ff0000"/><rect x="1222" y="666" width="1" height="1" fill="#ff0000"/><rect x="1225" y="666" width="1" height="1" fill="#ff0000"/><rect x="1228" y="666" width="1" height="1" fill="#ff0000"/><rect x="1231" y="666" width="1" height="1" fill="#ff0000"/><rect x="1234" y="666" width="1" height="1" fill="#ff0000"/><rect x="1237" y="666" width="1" height="1" fill="#ff0000"/><rect x="1240" y="666" width="1" height="1" fill="#ff0000"/><rect x="1243" y="666" width="1" height="1" fill="#ff0000"/><rect x="1246" y="666" width="1" height="1" fill="#ff0000"/><rect x="1249" y="666" width="1" height="1" fill="#ff0000"/><rect x="1252" y="666" width="1" height="1" fill="#ff0000"/><rect x="1255" y="666" width="1" height="1" fill="#ff0000"/><rect x="1258" y="666" width="1" height="1" fill="#ff0000"/><rect x="1261" y="666" width="1" height="1" fill="#ff0000"/><rect x="1264" y="666" width="1" height="1" fill="#ff0000"/><rect x="1267" y="666" width="1" height="1" fill="#ff0000"/><rect x="1270" y="666" width="1" height="1" fill="#ff0000"/><rect x="1273" y="666" width="1" height="1" fill="#ff0000"/><rect x="1276" y="666" width="1" height="1" fill="#ff0000"/><rect x="1279" y="666" width="1" height="1" fill="#ff0000"/><rect x="1282" y="666" width="1" height="1" fill="#ff0000"/><rect x="1285" y="666" width="1" height="1" fill="#ff0000"/><rect x="1288" y="666" width="1" height="1" fill="#ff0000"/><rect x="1291" y="666" width="1" height="1" fill="#ff0000"/><rect x="1294" y="666" width="1" height="1" fill="#ff0000"/><rect x="1297" y="666" width="1" height="1" fill="#ff0000"/><rect x="1300" y="666" width="1" height="1" fill="#ff0000"/><rect x="1303" y="666" width="1" height="1" fill="#ff0000"/><rect x="1306" y="666" width="1" height="1" fill="#ff0000"/><rect x="1309" y="666" width="1" height="1" fill="#ff0000"/><rect x="1312" y="666" width="1" height="1" fill="#ff0000"/><rect x="1315" y="666" width="1" height="1" fill="#ff0000"/><rect x="1318" y="666" width="1" height="1" fill="#ff0000"/><rect x="1321" y="666" width="1" height="1" fill="#ff0000"/><rect x="1324" y="666" width="1" height="1" fill="#ff0000"/><rect x="1327" y="666" width="1" height="1" fill="#ff0000"/></g>
<path d="M15.0,600.0 L23.0,593.4 L30.0,599.5 L38.0,605.0 L45.0,611.2 L53.0,615.2 L60.0,618.7 L68.0,629.5 L75.0,642.3 L83.0,652.3 L90.0,661.4 L98.0,667.1 L105.0,672.8 L113.0,674.9 L120.0,676.3 L128.0,684.0 L135.0,689.9 L143.0,689.1 L150.0,685.8 L158.0,685.4 L165.0,681.0 L173.0,676.3 L180.0,669.6 L188.0,667.7 L195.0,667.7 L203.0,669.6 L210.0,671.2 L218.0,673.6 L225.0,675.9 L233.0,676.3 L240.0,677.3 L248.0,677.3 L255.0,678.3 L263.0,678.3 L270.0,678.3 L278.0,676.9 L285.0,674.2 L293.0,671.6 L300.0,661.0 L308.0,654.9 L315.0,651.9 L323.0,650.8 L330.0,647.4 L338.0,644.3 L345.0,638.2 L353.0,631.5 L360.0,620.7 L368.0,608.7 L375.0,597.5 L383.0,587.3 L390.0,579.2 L398.0,570.4 L405.0,566.4 L413.0,570.4 L420.0,574.9 L428.0,579.6 L435.0,584.7 L443.0,590.2 L450.0,595.9 L458.0,603.0 L465.0,610.1 L473.0,619.3 L480.0,627.0 L488.0,636.2 L495.0,641.7 L503.0,645.1 L510.0,647.8 L518.0,651.5 L525.0,651.5 L533.0,648.8 L540.0,648.8 L548.0,658.0 L555.0,670.2 L563.0,682.4 L570.0,686.9 L578.0,686.1 L585.0,686.0 L593.0,681.0 L600.0,674.2 L608.0,669.2 L615.0,663.5 L623.0,655.5 L630.0,644.7 L638.0,637.2 L645.0,629.1 L653.0,623.0 L660.0,619.7 L668.0,615.6 L675.0,612.8 L683.0,610.1 L690.0,611.2 L698.0,615.6 L705.0,623.4 L713.0,632.1 L720.0,639.0 L728.0,643.7 L735.0,648.8 L743.0,653.3 L750.0,654.9 L758.0,650.8 L765.0,643.7 L773.0,636.0 L780.0,630.9 L788.0,625.4 L795.0,621.9 L803.0,619.9 L810.0,617.9 L818.0,613.6 L825.0,615.2 L833.0,621.3 L840.0,625.0 L848.0,623.8 L855.0,624.0 L863.0,626.0 L870.0,628.5 L878.0,628.0 L885.0,627.4 L893.0,625.8 L900.0,624.0 L908.0,621.9 L915.0,625.8 L923.0,632.5 L930.0,642.3 L938.0,651.9 L945.0,659.0 L953.0,665.1 L960.0,668.5 L968.0,666.1 L975.0,660.0 L983.0,652.9 L990.0,650.2 L998.0,651.3 L1005.0,655.9 L1013.0,662.0 L1020.0,664.1 L1028.0,667.1 L1035.0,669.2 L1043.0,677.3 L1050.0,684.4 L1058.0,690.5 L1065.0,694.6 L1073.0,696.0 L1080.0,695.2 L1088.0,690.5 L1095.0,686.1 L1103.0,685.4 L1110.0,684.0 L1118.0,681.8 L1125.0,676.2 L1133.0,668.8 L1140.0,665.7 L1148.0,665.8 L1155.0,668.8 L1163.0,670.6 L1170.0,670.8 L1178.0,669.2 L1185.0,666.7 L1193.0,663.1" fill="none" stroke="#ff0000" stroke-width="2.5" stroke-linejoin="round" stroke-opacity="0.66"/>
<path d="M15.0,608.5 L23.0,602.4 L30.0,599.5 L38.0,600.0 L45.0,603.4 L53.0,608.1 L60.0,612.6 L68.0,619.3 L75.0,628.5 L83.0,638.6 L90.0,648.8 L98.0,658.0 L105.0,665.1 L113.0,670.2 L120.0,673.8 L128.0,678.9 L135.0,683.4 L143.0,685.8 L150.0,686.7 L158.0,686.9 L165.0,685.0 L173.0,682.0 L180.0,677.3 L188.0,673.2 L195.0,670.6 L203.0,669.6 L210.0,670.2 L218.0,671.6 L225.0,673.6 L233.0,674.9 L240.0,675.9 L248.0,676.7 L255.0,677.7 L263.0,677.7 L270.0,677.7 L278.0,677.3 L285.0,676.3 L293.0,674.2 L300.0,669.2 L308.0,663.0 L315.0,658.0 L323.0,654.5 L330.0,650.8 L338.0,647.8 L345.0,643.7 L353.0,638.6 L360.0,631.5 L368.0,621.3 L375.0,610.1 L383.0,598.9 L390.0,588.8 L398.0,579.6 L405.0,574.5 L413.0,571.9 L420.0,571.5 L428.0,573.5 L435.0,577.0 L443.0,582.0 L450.0,587.1 L458.0,593.9 L465.0,600.6 L473.0,609.1 L480.0,616.2 L488.0,625.4 L495.0,632.5 L503.0,639.0 L510.0,643.7 L518.0,647.8 L525.0,650.2 L533.0,649.8 L540.0,649.8 L548.0,652.5 L555.0,658.6 L563.0,669.2 L570.0,677.3 L578.0,682.4 L585.0,684.9 L593.0,683.8 L600.0,681.0 L608.0,676.3 L615.0,671.2 L623.0,664.1 L630.0,655.9 L638.0,646.4 L645.0,638.6 L653.0,631.1 L660.0,625.4 L668.0,620.3 L675.0,616.2 L683.0,613.6 L690.0,612.6 L698.0,613.2 L705.0,616.6 L713.0,623.4 L720.0,629.5 L728.0,636.6 L735.0,642.7 L743.0,647.8 L750.0,650.8 L758.0,651.3 L765.0,649.4 L773.0,644.7 L780.0,639.0 L788.0,632.9 L795.0,628.0 L803.0,624.0 L810.0,621.3 L818.0,617.9 L825.0,616.2 L833.0,617.9 L840.0,620.3 L848.0,621.9 L855.0,623.0 L863.0,624.8 L870.0,626.2 L878.0,627.4 L885.0,627.4 L893.0,626.8 L900.0,625.8 L908.0,624.4 L915.0,625.0 L923.0,627.4 L930.0,632.5 L938.0,640.7 L945.0,647.8 L953.0,655.9 L960.0,661.4 L968.0,664.7 L975.0,663.5 L983.0,659.6 L990.0,655.9 L998.0,653.3 L1005.0,653.9 L1013.0,656.5 L1020.0,659.4 L1028.0,663.1 L1035.0,666.1 L1043.0,671.2 L1050.0,676.9 L1058.0,683.4 L1065.0,688.5 L1073.0,692.6 L1080.0,694.2 L1088.0,693.2 L1095.0,691.1 L1103.0,688.9 L1110.0,686.9 L1118.0,684.2 L1125.0,681.0 L1133.0,676.3 L1140.0,672.1 L1148.0,668.9 L1155.0,667.8 L1163.0,668.4 L1170.0,669.4 L1178.0,669.2 L1185.0,668.2 L1193.0,666.7" fill="none" stroke="#0000ff" stroke-width="2.6" stroke-linejoin="round" stroke-linecap="round" stroke-opacity="0.66"/>
</g>
<text x="41.25" y="579" font-size="19.6" font-weight="bold" fill="#000" textLength="71.44" lengthAdjust="spacingAndGlyphs">Tension</text><text x="117.53" y="579" font-size="19.6" font-weight="bold" fill="#000" textLength="84.02" lengthAdjust="spacingAndGlyphs">Indicator</text>
<rect x="1329" y="34" width="1" height="731" fill="#50535f" shape-rendering="crispEdges"/>
<rect x="13" y="710" width="1448" height="1" fill="#50535f" shape-rendering="crispEdges"/>
<g stroke="#fff" stroke-width="0.2"><text x="51.35" y="742.7" font-size="25" font-weight="bold" fill="#000" textLength="47.06" lengthAdjust="spacingAndGlyphs">May</text><text x="218.68" y="742.7" font-size="25" font-weight="bold" fill="#000" textLength="44.31" lengthAdjust="spacingAndGlyphs">Jun</text><text x="380.2" y="742.7" font-size="25" font-weight="bold" fill="#000" textLength="35.66" lengthAdjust="spacingAndGlyphs">Jul</text><text x="548.02" y="742.7" font-size="25" font-weight="bold" fill="#000" textLength="46.18" lengthAdjust="spacingAndGlyphs">Aug</text><text x="706.85" y="742.7" font-size="25" font-weight="bold" fill="#000" textLength="42.48" lengthAdjust="spacingAndGlyphs">Sep</text><text x="872.53" y="742.7" font-size="25" font-weight="bold" fill="#000" textLength="40.01" lengthAdjust="spacingAndGlyphs">Oct</text><text x="1042.42" y="742.7" font-size="25" font-weight="bold" fill="#000" textLength="44.36" lengthAdjust="spacingAndGlyphs">Nov</text><text x="1193.68" y="742.7" font-size="25" font-weight="bold" fill="#000" textLength="43.62" lengthAdjust="spacingAndGlyphs">Dec</text></g>
<g clip-path="url(#ax)">
<text x="1345.9" y="122.7" font-size="24" font-weight="normal" fill="#111" stroke="#111" stroke-width="0.35" textLength="89.28" lengthAdjust="spacingAndGlyphs">1.64000</text><text x="1345.9" y="208.4" font-size="24" font-weight="normal" fill="#111" stroke="#111" stroke-width="0.35" textLength="89.28" lengthAdjust="spacingAndGlyphs">1.62000</text><text x="1345.9" y="380.2" font-size="24" font-weight="normal" fill="#111" stroke="#111" stroke-width="0.35" textLength="89.28" lengthAdjust="spacingAndGlyphs">1.58000</text><text x="1345.9" y="466.4" font-size="24" font-weight="normal" fill="#111" stroke="#111" stroke-width="0.35" textLength="89.28" lengthAdjust="spacingAndGlyphs">1.56000</text><text x="1345.9" y="552.5" font-size="24" font-weight="normal" fill="#111" stroke="#111" stroke-width="0.35" textLength="89.28" lengthAdjust="spacingAndGlyphs">1.54000</text>
<path d="M1330,138 H1442 a2,2 0 0 1 2,2 V171 a2,2 0 0 1 -2,2 H1330 Z" fill="#cc0000"/><text x="1345.92" y="163.5" font-size="24" font-weight="normal" fill="#fff" stroke="#fff" stroke-width="0.35" textLength="88.79" lengthAdjust="spacingAndGlyphs">1.63057</text>
<path d="M1330,173 H1442 a2,2 0 0 1 2,2 V206 a2,2 0 0 1 -2,2 H1330 Z" fill="#3b3fa5"/><text x="1345.98" y="198.7" font-size="24" font-weight="normal" fill="#fff" stroke="#fff" stroke-width="0.35" textLength="88.66" lengthAdjust="spacingAndGlyphs">1.62510</text>
<path d="M1330,269 H1442 a2,2 0 0 1 2,2 V302 a2,2 0 0 1 -2,2 H1330 Z" fill="#bf9000"/><text x="1345.92" y="294.5" font-size="24" font-weight="normal" fill="#fff" stroke="#fff" stroke-width="0.35" textLength="88.79" lengthAdjust="spacingAndGlyphs">1.60017</text>
</g>
<rect x="1334.1" y="38.9" width="122.2" height="31.3" rx="4" ry="4" fill="#fff" stroke="#f3f3f3" stroke-width="1.7"/>
<text x="1344.58" y="59.9" font-size="15.6" font-weight="normal" fill="#131722" textLength="28.09" lengthAdjust="spacingAndGlyphs">CAD</text>
<path d="M15.5,793 H29.9 V810.9 H23.1 V799.7 H15.5 Z" fill="#131722"/>
<circle cx="36.6" cy="796" r="3.4" fill="#131722"/>
<path d="M43.1,793 H52.8 L45.8,810.9 H36.9 Z" fill="#131722"/>
<text x="61.63" y="810.9" font-size="25.6" font-weight="bold" fill="#131722" textLength="151.46" lengthAdjust="spacingAndGlyphs">TradingView</text>
</svg></body></html>
